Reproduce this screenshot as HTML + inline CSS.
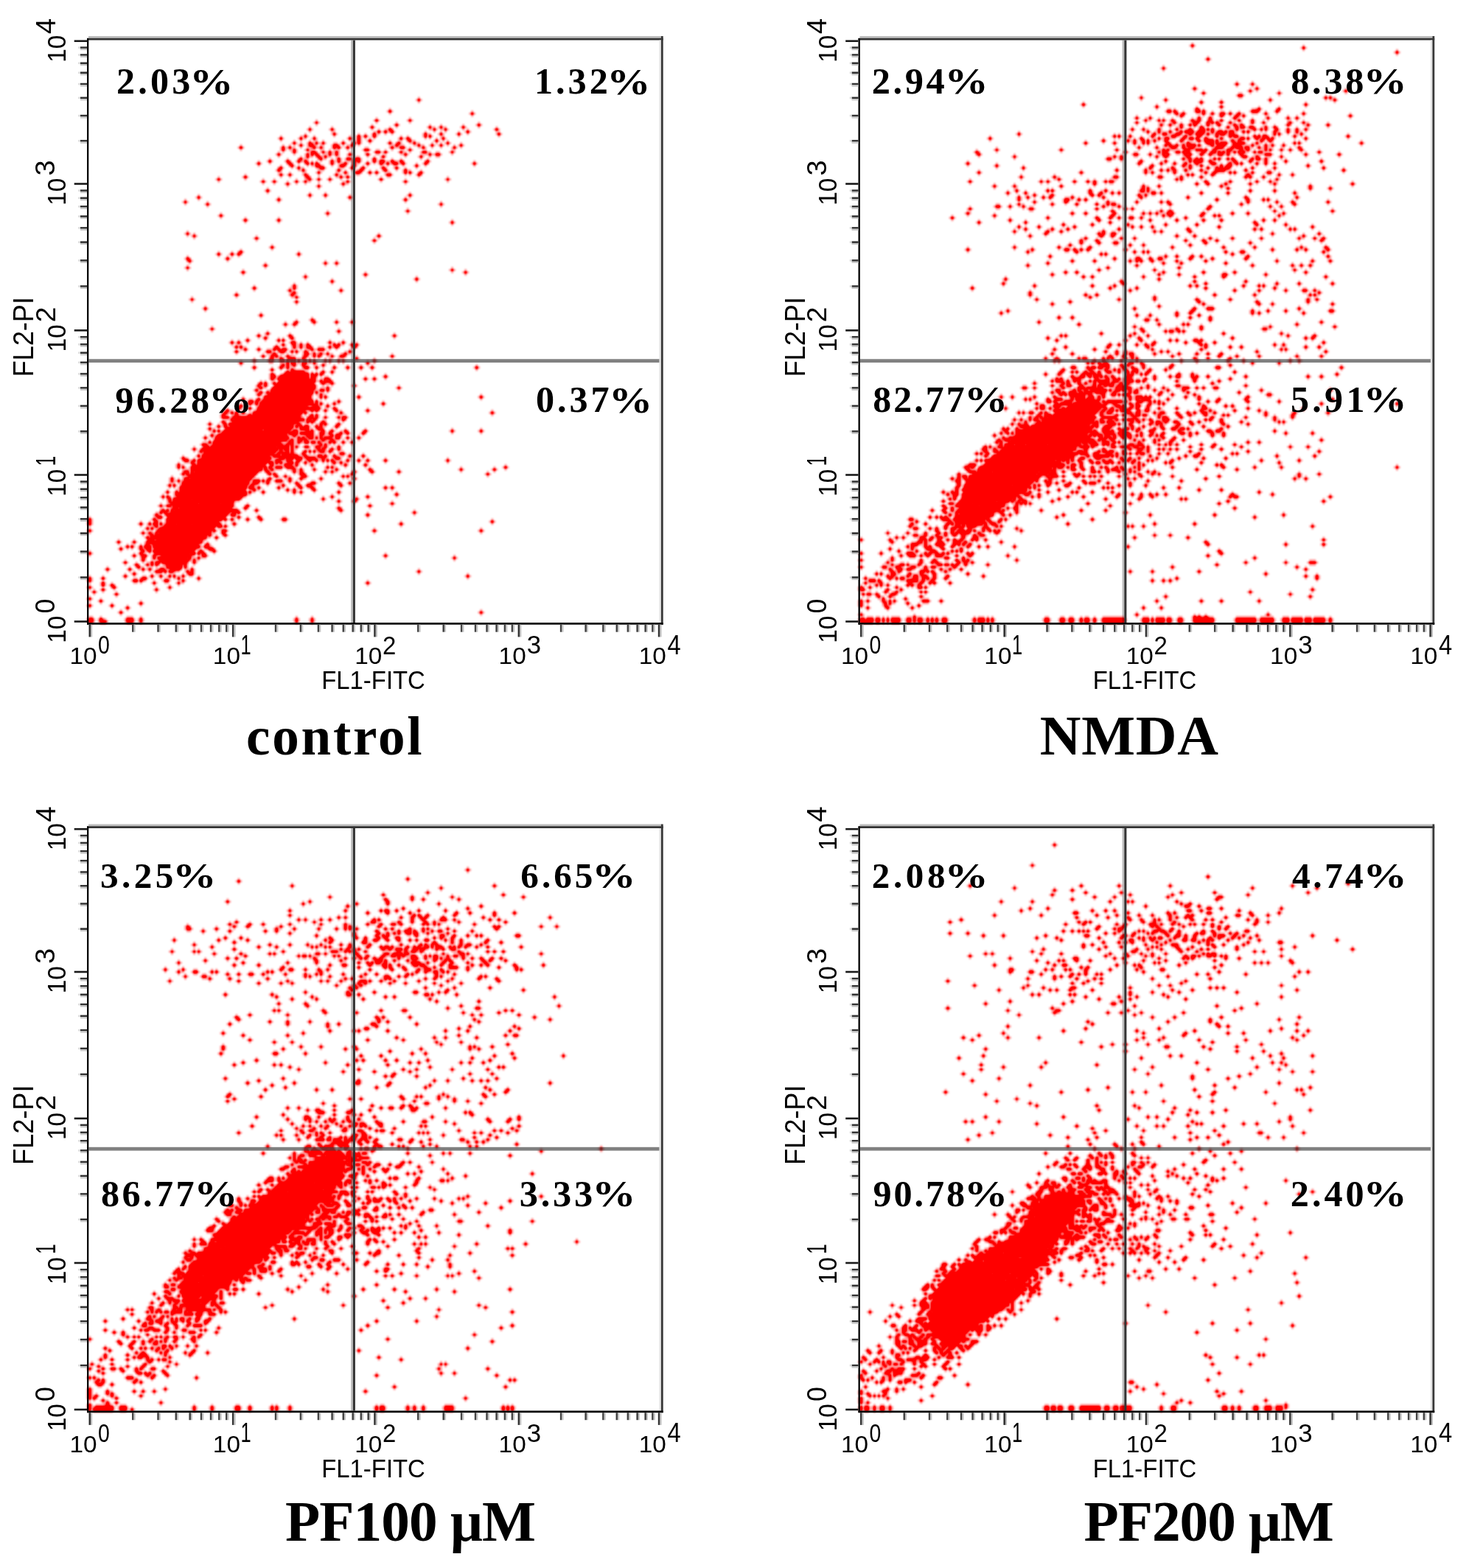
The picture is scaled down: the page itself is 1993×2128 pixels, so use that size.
<!DOCTYPE html><html><head><meta charset="utf-8"><title>Flow cytometry</title><style>html,body{margin:0;padding:0;background:#fff}svg{display:block}text.s{font-family:"Liberation Sans",Arial,sans-serif}text.b{font-family:"Liberation Serif","Times New Roman",serif;font-weight:bold}</style></head><body>
<svg xmlns="http://www.w3.org/2000/svg" width="1993" height="2128" viewBox="0 0 1993 2128">
<rect width="100%" height="100%" fill="#fff"/>
<defs><filter id="bl" filterUnits="userSpaceOnUse" x="112" y="46" width="792" height="806" color-interpolation-filters="sRGB"><feMorphology in="SourceAlpha" operator="dilate" radius="3 0.01" result="h"/><feMorphology in="SourceAlpha" operator="dilate" radius="0.01 3" result="v"/><feComposite in="h" in2="v" operator="arithmetic" k2="0.28" k3="0.28" result="hv"/><feComposite in="hv" in2="SourceAlpha" operator="arithmetic" k2="1" k3="1" result="a"/><feFlood flood-color="#f00"/><feComposite in2="a" operator="in"/><feGaussianBlur stdDeviation="0.8"/><feComponentTransfer><feFuncA type="linear" slope="1.3"/></feComponentTransfer></filter><g id="ax"><rect x="120.00" y="49.00" width="777.00" height="2.70" fill="#bdbdbd"/><rect x="118.00" y="51.70" width="781.70" height="2.80" fill="#333"/><rect x="894.40" y="54.50" width="2.50" height="790.50" fill="#e4e4e4"/><rect x="896.90" y="49.00" width="2.80" height="798.70" fill="#383838"/><rect x="118.00" y="52.00" width="2.30" height="795.70" fill="#000"/><rect x="118.00" y="845.00" width="781.70" height="2.70" fill="#000"/><rect x="100.70" y="842.20" width="17.30" height="2.60" fill="#1a1a1a"/><rect x="100.70" y="643.20" width="17.30" height="2.60" fill="#1a1a1a"/><rect x="100.70" y="447.10" width="17.30" height="2.60" fill="#1a1a1a"/><rect x="100.70" y="248.20" width="17.30" height="2.60" fill="#1a1a1a"/><rect x="100.70" y="54.40" width="17.30" height="2.60" fill="#1a1a1a"/><rect x="109.00" y="782.30" width="9.00" height="2.60" fill="#333"/><rect x="109.00" y="784.90" width="9.00" height="2.20" fill="#c8c8c8"/><rect x="106.30" y="782.30" width="2.70" height="2.60" fill="#d8d8d8"/><rect x="109.00" y="747.25" width="9.00" height="2.60" fill="#333"/><rect x="109.00" y="749.85" width="9.00" height="2.20" fill="#c8c8c8"/><rect x="106.30" y="747.25" width="2.70" height="2.60" fill="#d8d8d8"/><rect x="109.00" y="722.39" width="9.00" height="2.60" fill="#333"/><rect x="109.00" y="724.99" width="9.00" height="2.20" fill="#c8c8c8"/><rect x="106.30" y="722.39" width="2.70" height="2.60" fill="#d8d8d8"/><rect x="109.00" y="703.10" width="9.00" height="2.60" fill="#333"/><rect x="109.00" y="705.70" width="9.00" height="2.20" fill="#c8c8c8"/><rect x="106.30" y="703.10" width="2.70" height="2.60" fill="#d8d8d8"/><rect x="109.00" y="687.35" width="9.00" height="2.60" fill="#333"/><rect x="109.00" y="689.95" width="9.00" height="2.20" fill="#c8c8c8"/><rect x="106.30" y="687.35" width="2.70" height="2.60" fill="#d8d8d8"/><rect x="109.00" y="674.03" width="9.00" height="2.60" fill="#333"/><rect x="109.00" y="676.63" width="9.00" height="2.20" fill="#c8c8c8"/><rect x="106.30" y="674.03" width="2.70" height="2.60" fill="#d8d8d8"/><rect x="109.00" y="662.49" width="9.00" height="2.60" fill="#333"/><rect x="109.00" y="665.09" width="9.00" height="2.20" fill="#c8c8c8"/><rect x="106.30" y="662.49" width="2.70" height="2.60" fill="#d8d8d8"/><rect x="109.00" y="652.31" width="9.00" height="2.60" fill="#333"/><rect x="109.00" y="654.91" width="9.00" height="2.20" fill="#c8c8c8"/><rect x="106.30" y="652.31" width="2.70" height="2.60" fill="#d8d8d8"/><rect x="109.00" y="584.17" width="9.00" height="2.60" fill="#333"/><rect x="109.00" y="586.77" width="9.00" height="2.20" fill="#c8c8c8"/><rect x="106.30" y="584.17" width="2.70" height="2.60" fill="#d8d8d8"/><rect x="109.00" y="549.64" width="9.00" height="2.60" fill="#333"/><rect x="109.00" y="552.24" width="9.00" height="2.20" fill="#c8c8c8"/><rect x="106.30" y="549.64" width="2.70" height="2.60" fill="#d8d8d8"/><rect x="109.00" y="525.14" width="9.00" height="2.60" fill="#333"/><rect x="109.00" y="527.74" width="9.00" height="2.20" fill="#c8c8c8"/><rect x="106.30" y="525.14" width="2.70" height="2.60" fill="#d8d8d8"/><rect x="109.00" y="506.13" width="9.00" height="2.60" fill="#333"/><rect x="109.00" y="508.73" width="9.00" height="2.20" fill="#c8c8c8"/><rect x="106.30" y="506.13" width="2.70" height="2.60" fill="#d8d8d8"/><rect x="109.00" y="490.60" width="9.00" height="2.60" fill="#333"/><rect x="109.00" y="493.20" width="9.00" height="2.20" fill="#c8c8c8"/><rect x="106.30" y="490.60" width="2.70" height="2.60" fill="#d8d8d8"/><rect x="109.00" y="477.48" width="9.00" height="2.60" fill="#333"/><rect x="109.00" y="480.08" width="9.00" height="2.20" fill="#c8c8c8"/><rect x="106.30" y="477.48" width="2.70" height="2.60" fill="#d8d8d8"/><rect x="109.00" y="466.10" width="9.00" height="2.60" fill="#333"/><rect x="109.00" y="468.70" width="9.00" height="2.20" fill="#c8c8c8"/><rect x="106.30" y="466.10" width="2.70" height="2.60" fill="#d8d8d8"/><rect x="109.00" y="456.07" width="9.00" height="2.60" fill="#333"/><rect x="109.00" y="458.67" width="9.00" height="2.20" fill="#c8c8c8"/><rect x="106.30" y="456.07" width="2.70" height="2.60" fill="#d8d8d8"/><rect x="109.00" y="387.23" width="9.00" height="2.60" fill="#333"/><rect x="109.00" y="389.83" width="9.00" height="2.20" fill="#c8c8c8"/><rect x="106.30" y="387.23" width="2.70" height="2.60" fill="#d8d8d8"/><rect x="109.00" y="352.20" width="9.00" height="2.60" fill="#333"/><rect x="109.00" y="354.80" width="9.00" height="2.20" fill="#c8c8c8"/><rect x="106.30" y="352.20" width="2.70" height="2.60" fill="#d8d8d8"/><rect x="109.00" y="327.35" width="9.00" height="2.60" fill="#333"/><rect x="109.00" y="329.95" width="9.00" height="2.20" fill="#c8c8c8"/><rect x="106.30" y="327.35" width="2.70" height="2.60" fill="#d8d8d8"/><rect x="109.00" y="308.07" width="9.00" height="2.60" fill="#333"/><rect x="109.00" y="310.67" width="9.00" height="2.20" fill="#c8c8c8"/><rect x="106.30" y="308.07" width="2.70" height="2.60" fill="#d8d8d8"/><rect x="109.00" y="292.33" width="9.00" height="2.60" fill="#333"/><rect x="109.00" y="294.93" width="9.00" height="2.20" fill="#c8c8c8"/><rect x="106.30" y="292.33" width="2.70" height="2.60" fill="#d8d8d8"/><rect x="109.00" y="279.01" width="9.00" height="2.60" fill="#333"/><rect x="109.00" y="281.61" width="9.00" height="2.20" fill="#c8c8c8"/><rect x="106.30" y="279.01" width="2.70" height="2.60" fill="#d8d8d8"/><rect x="109.00" y="267.48" width="9.00" height="2.60" fill="#333"/><rect x="109.00" y="270.08" width="9.00" height="2.20" fill="#c8c8c8"/><rect x="106.30" y="267.48" width="2.70" height="2.60" fill="#d8d8d8"/><rect x="109.00" y="257.30" width="9.00" height="2.60" fill="#333"/><rect x="109.00" y="259.90" width="9.00" height="2.20" fill="#c8c8c8"/><rect x="106.30" y="257.30" width="2.70" height="2.60" fill="#d8d8d8"/><rect x="109.00" y="189.86" width="9.00" height="2.60" fill="#333"/><rect x="109.00" y="192.46" width="9.00" height="2.20" fill="#c8c8c8"/><rect x="106.30" y="189.86" width="2.70" height="2.60" fill="#d8d8d8"/><rect x="109.00" y="155.73" width="9.00" height="2.60" fill="#333"/><rect x="109.00" y="158.33" width="9.00" height="2.20" fill="#c8c8c8"/><rect x="106.30" y="155.73" width="2.70" height="2.60" fill="#d8d8d8"/><rect x="109.00" y="131.52" width="9.00" height="2.60" fill="#333"/><rect x="109.00" y="134.12" width="9.00" height="2.20" fill="#c8c8c8"/><rect x="106.30" y="131.52" width="2.70" height="2.60" fill="#d8d8d8"/><rect x="109.00" y="112.74" width="9.00" height="2.60" fill="#333"/><rect x="109.00" y="115.34" width="9.00" height="2.20" fill="#c8c8c8"/><rect x="106.30" y="112.74" width="2.70" height="2.60" fill="#d8d8d8"/><rect x="109.00" y="97.39" width="9.00" height="2.60" fill="#333"/><rect x="109.00" y="99.99" width="9.00" height="2.20" fill="#c8c8c8"/><rect x="106.30" y="97.39" width="2.70" height="2.60" fill="#d8d8d8"/><rect x="109.00" y="84.42" width="9.00" height="2.60" fill="#333"/><rect x="109.00" y="87.02" width="9.00" height="2.20" fill="#c8c8c8"/><rect x="106.30" y="84.42" width="2.70" height="2.60" fill="#d8d8d8"/><rect x="109.00" y="73.18" width="9.00" height="2.60" fill="#333"/><rect x="109.00" y="75.78" width="9.00" height="2.20" fill="#c8c8c8"/><rect x="106.30" y="73.18" width="2.70" height="2.60" fill="#d8d8d8"/><rect x="109.00" y="63.27" width="9.00" height="2.60" fill="#333"/><rect x="109.00" y="65.87" width="9.00" height="2.20" fill="#c8c8c8"/><rect x="106.30" y="63.27" width="2.70" height="2.60" fill="#d8d8d8"/><rect x="120.50" y="847.70" width="2.60" height="16.70" fill="#333"/><rect x="123.10" y="847.70" width="2.00" height="16.70" fill="#bbb"/><rect x="314.90" y="847.70" width="2.60" height="16.70" fill="#333"/><rect x="317.50" y="847.70" width="2.00" height="16.70" fill="#bbb"/><rect x="507.20" y="847.70" width="2.60" height="16.70" fill="#333"/><rect x="509.80" y="847.70" width="2.00" height="16.70" fill="#bbb"/><rect x="702.60" y="847.70" width="2.60" height="16.70" fill="#333"/><rect x="705.20" y="847.70" width="2.00" height="16.70" fill="#bbb"/><rect x="892.80" y="847.70" width="2.60" height="16.70" fill="#333"/><rect x="895.40" y="847.70" width="2.00" height="16.70" fill="#bbb"/><rect x="179.02" y="847.70" width="2.60" height="10.00" fill="#444"/><rect x="181.62" y="847.70" width="2.00" height="10.00" fill="#c4c4c4"/><rect x="213.25" y="847.70" width="2.60" height="10.00" fill="#444"/><rect x="215.85" y="847.70" width="2.00" height="10.00" fill="#c4c4c4"/><rect x="237.54" y="847.70" width="2.60" height="10.00" fill="#444"/><rect x="240.14" y="847.70" width="2.00" height="10.00" fill="#c4c4c4"/><rect x="256.38" y="847.70" width="2.60" height="10.00" fill="#444"/><rect x="258.98" y="847.70" width="2.00" height="10.00" fill="#c4c4c4"/><rect x="271.77" y="847.70" width="2.60" height="10.00" fill="#444"/><rect x="274.37" y="847.70" width="2.00" height="10.00" fill="#c4c4c4"/><rect x="284.79" y="847.70" width="2.60" height="10.00" fill="#444"/><rect x="287.39" y="847.70" width="2.00" height="10.00" fill="#c4c4c4"/><rect x="296.06" y="847.70" width="2.60" height="10.00" fill="#444"/><rect x="298.66" y="847.70" width="2.00" height="10.00" fill="#c4c4c4"/><rect x="306.00" y="847.70" width="2.60" height="10.00" fill="#444"/><rect x="308.60" y="847.70" width="2.00" height="10.00" fill="#c4c4c4"/><rect x="372.79" y="847.70" width="2.60" height="10.00" fill="#444"/><rect x="375.39" y="847.70" width="2.00" height="10.00" fill="#c4c4c4"/><rect x="406.65" y="847.70" width="2.60" height="10.00" fill="#444"/><rect x="409.25" y="847.70" width="2.00" height="10.00" fill="#c4c4c4"/><rect x="430.68" y="847.70" width="2.60" height="10.00" fill="#444"/><rect x="433.28" y="847.70" width="2.00" height="10.00" fill="#c4c4c4"/><rect x="449.31" y="847.70" width="2.60" height="10.00" fill="#444"/><rect x="451.91" y="847.70" width="2.00" height="10.00" fill="#c4c4c4"/><rect x="464.54" y="847.70" width="2.60" height="10.00" fill="#444"/><rect x="467.14" y="847.70" width="2.00" height="10.00" fill="#c4c4c4"/><rect x="477.41" y="847.70" width="2.60" height="10.00" fill="#444"/><rect x="480.01" y="847.70" width="2.00" height="10.00" fill="#c4c4c4"/><rect x="488.56" y="847.70" width="2.60" height="10.00" fill="#444"/><rect x="491.16" y="847.70" width="2.00" height="10.00" fill="#c4c4c4"/><rect x="498.40" y="847.70" width="2.60" height="10.00" fill="#444"/><rect x="501.00" y="847.70" width="2.00" height="10.00" fill="#c4c4c4"/><rect x="566.02" y="847.70" width="2.60" height="10.00" fill="#444"/><rect x="568.62" y="847.70" width="2.00" height="10.00" fill="#c4c4c4"/><rect x="600.43" y="847.70" width="2.60" height="10.00" fill="#444"/><rect x="603.03" y="847.70" width="2.00" height="10.00" fill="#c4c4c4"/><rect x="624.84" y="847.70" width="2.60" height="10.00" fill="#444"/><rect x="627.44" y="847.70" width="2.00" height="10.00" fill="#c4c4c4"/><rect x="643.78" y="847.70" width="2.60" height="10.00" fill="#444"/><rect x="646.38" y="847.70" width="2.00" height="10.00" fill="#c4c4c4"/><rect x="659.25" y="847.70" width="2.60" height="10.00" fill="#444"/><rect x="661.85" y="847.70" width="2.00" height="10.00" fill="#c4c4c4"/><rect x="672.33" y="847.70" width="2.60" height="10.00" fill="#444"/><rect x="674.93" y="847.70" width="2.00" height="10.00" fill="#c4c4c4"/><rect x="683.66" y="847.70" width="2.60" height="10.00" fill="#444"/><rect x="686.26" y="847.70" width="2.00" height="10.00" fill="#c4c4c4"/><rect x="693.66" y="847.70" width="2.60" height="10.00" fill="#444"/><rect x="696.26" y="847.70" width="2.00" height="10.00" fill="#c4c4c4"/><rect x="759.86" y="847.70" width="2.60" height="10.00" fill="#444"/><rect x="762.46" y="847.70" width="2.00" height="10.00" fill="#c4c4c4"/><rect x="793.35" y="847.70" width="2.60" height="10.00" fill="#444"/><rect x="795.95" y="847.70" width="2.00" height="10.00" fill="#c4c4c4"/><rect x="817.11" y="847.70" width="2.60" height="10.00" fill="#444"/><rect x="819.71" y="847.70" width="2.00" height="10.00" fill="#c4c4c4"/><rect x="835.54" y="847.70" width="2.60" height="10.00" fill="#444"/><rect x="838.14" y="847.70" width="2.00" height="10.00" fill="#c4c4c4"/><rect x="850.60" y="847.70" width="2.60" height="10.00" fill="#444"/><rect x="853.20" y="847.70" width="2.00" height="10.00" fill="#c4c4c4"/><rect x="863.34" y="847.70" width="2.60" height="10.00" fill="#444"/><rect x="865.94" y="847.70" width="2.00" height="10.00" fill="#c4c4c4"/><rect x="874.37" y="847.70" width="2.60" height="10.00" fill="#444"/><rect x="876.97" y="847.70" width="2.00" height="10.00" fill="#c4c4c4"/><rect x="884.10" y="847.70" width="2.60" height="10.00" fill="#444"/><rect x="886.70" y="847.70" width="2.00" height="10.00" fill="#c4c4c4"/><text class="s" transform="translate(94.46,901.49) scale(1,0.952)" style="font-size:33.40px">10</text><text class="s" transform="translate(132.89,887.25) scale(1,1.246)" style="font-size:28.45px">0</text><text class="s" transform="translate(288.86,901.49) scale(1,0.952)" style="font-size:33.40px">10</text><text class="s" transform="translate(326.46,887.60) scale(1,1.430)" style="font-size:25.51px">1</text><text class="s" transform="translate(481.16,901.49) scale(1,0.952)" style="font-size:33.40px">10</text><text class="s" transform="translate(519.04,887.60) scale(1,1.092)" style="font-size:32.93px">2</text><text class="s" transform="translate(676.56,901.49) scale(1,0.952)" style="font-size:33.40px">10</text><text class="s" transform="translate(714.77,887.25) scale(1,1.019)" style="font-size:34.80px">3</text><text class="s" transform="translate(866.76,901.49) scale(1,0.952)" style="font-size:33.40px">10</text><text class="s" transform="translate(905.55,887.60) scale(1,1.114)" style="font-size:32.74px">4</text><text class="s" transform="translate(436.20,935.06) scale(1,1.057)" style="font-size:32.88px">FL1-FITC</text><text class="s" transform="translate(88.65,872.64) rotate(-90) scale(1,1.069)" style="font-size:33.30px">10</text><text class="s" transform="translate(74.45,832.39) rotate(-90) scale(1,1.017)" style="font-size:35.56px">0</text><text class="s" transform="translate(88.65,673.64) rotate(-90) scale(1,1.069)" style="font-size:33.30px">10</text><text class="s" transform="translate(74.80,632.36) rotate(-90) scale(1,1.528)" style="font-size:24.35px">1</text><text class="s" transform="translate(88.65,477.54) rotate(-90) scale(1,1.069)" style="font-size:33.30px">10</text><text class="s" transform="translate(74.80,437.60) rotate(-90) scale(1,0.971)" style="font-size:37.76px">2</text><text class="s" transform="translate(88.65,278.64) rotate(-90) scale(1,1.069)" style="font-size:33.30px">10</text><text class="s" transform="translate(74.45,238.45) rotate(-90) scale(1,0.952)" style="font-size:37.96px">3</text><text class="s" transform="translate(88.65,84.84) rotate(-90) scale(1,1.069)" style="font-size:33.30px">10</text><text class="s" transform="translate(74.80,46.18) rotate(-90) scale(1,0.972)" style="font-size:38.30px">4</text><text class="s" transform="translate(45.30,511.57) rotate(-90) scale(1,1.076)" style="font-size:36.19px">FL2-PI</text></g></defs>
<g transform="translate(0,0)">
<g filter="url(#bl)"><g transform="translate(120.3,57.3) scale(3.017,3.077)" fill="none" stroke="#f00"><path d="M148 25.5h1M135 30.5h1M172 31.5h1M129 34.5h1m14 0h1M102 35.5h1M138 36.5h1m36 0h1M127 37.5h1m25 0h1m4 0h1m9 0h1M99 38.5h1m9 0h1m25 0h1m19 0h1m4 0h1m22 0h1M130 39.5h1m2 0h1m2 0h1m33 0h1M110 40.5h1m17 0h1m22 0h1m6 0h1m7 0h1m17 0h1M97 41.5h1m23 0h1m2 0h1m3 0h1m22 0h1m1 0h1M86 42.5h1m8 0h1m5 0h1m15 0h1m3 0h1m18 0h1m2 0h1m15 0h1M121 43.5h1m4 0h1m17 0h1m11 0h1M92 44.5h1m6 0h1m2 0h1m2 0h1m8 0h1m4 0h1m1 0h1m13 0h1m3 0h1m6 0h1m14 0h1M95 45.5h1m3 0h2m9 0h2m6 0h1m19 0h1m9 0h1m5 0h1m3 0h1m8 0h1M68 46.5h1m18 0h1m2 0h1m10 0h1m2 0h1m5 0h1m1 0h1m3 0h1m19 0h1m3 0h2m8 0h1m13 0h1M87 47.5h1m4 0h1m5 0h1m25 0h2m18 0h1M92 48.5h1m7 0h2m3 0h1m2 0h1m2 0h1m17 0h2m2 0h1m6 0h1m9 0h2m11 0h1M85 49.5h1m12 0h1m1 0h1m1 0h1m5 0h1m2 0h1m5 0h1m7 0h1m16 0h1m10 0h1m2 0h2M98 50.5h1m4 0h1m2 0h1m25 0h1m16 0h1M95 51.5h1m8 0h1m7 0h1m3 0h2m2 0h2m6 0h1M81 52.5h1m7 0h1m4 0h1m2 0h1m11 0h1m2 0h1m6 0h1m1 0h1m6 0h1m2 0h2m3 0h1m3 0h1m11 0h1M76 53.5h1m13 0h1m7 0h1m1 0h1m1 0h1m6 0h1m5 0h1m3 0h1m5 0h1m5 0h1m2 0h1m2 0h2m2 0h1m9 0h1m21 0h1M91 54.5h1m10 0h2m9 0h2m4 0h1m27 0h1M86 55.5h1m7 0h1m9 0h2m12 0h1m4 0h1m8 0h1m5 0h1M85 56.5h1m10 0h1m15 0h1m9 0h1m10 0h1m8 0h1M103 57.5h1m11 0h1m4 0h2m4 0h1m2 0h1m12 0h1m1 0h1m4 0h1M86 58.5h1m3 0h1m6 0h1m13 0h1m22 0h2m12 0h1M70 59.5h1m27 0h1m14 0h1m2 0h1M58 60.5h1m40 0h1m3 0h1m4 0h1m22 0h1m29 0h1M78 61.5h1m4 0h1m9 0h1m3 0h1m18 0h1m25 0h1M89 62.5h1m24 0h1M103 63.5h1M80 65.5h1M99 67.5h1m6 0h1m37 0h1M49 68.5h1m67 0h1M85 69.5h1m56 0h1M43 70.5h1M53 71.5h1m104 0h1M143 74.5h1M107 75.5h1M59 76.5h1M70 78.5h1m14 0h1M163 79.5h1M44 84.5h1M47 85.5h1m82 0h1M75 86.5h1M128 87.5h1M82 90.5h1M68 92.5h1M58 93.5h1m5 0h1m2 0h1m26 0h1M44 95.5h1m17 0h1M45 96.5h1M106 97.5h1m4 0h1M79 98.5h1M44 99.5h1M163 100.5h1M69 101.5h1m99 0h1M124 102.5h1M97 103.5h1M147 104.5h1M109 105.5h1M92 107.5h1M74 108.5h1m17 0h1M90 109.5h1m22 0h1M92 110.5h1M66 111.5h1m24 0h1M93 112.5h1M46 113.5h1M93 114.5h1M52 117.5h1M77 120.5h1M100 122.5h1M93 123.5h1m7 0h1m9 0h1m6 0h1M88 124.5h1m3 0h1M55 126.5h1M112 127.5h1M80 128.5h1M76 129.5h1m13 0h1m46 0h1M79 130.5h1m11 0h1M71 131.5h1m13 0h1m1 0h1M64 132.5h1m2 0h1m23 0h2m15 0h1m5 0h1M87 133.5h1m4 0h1m2 0h1m2 0h1m11 0h1m1 0h1m5 0h1m1 0h1M66 134.5h1m1 0h1m15 0h1m7 0h1m2 0h1m2 0h2m8 0h1m2 0h1m7 0h1M70 135.5h1m5 0h1m6 0h1m1 0h1m1 0h2m11 0h1m2 0h3M66 136.5h1m13 0h2m4 0h2m3 0h1m1 0h1m3 0h1m19 0h1M83 137.5h1m13 0h2m2 0h1m2 0h1m2 0h1m7 0h1M78 138.5h1m3 0h1m1 0h1m4 0h1m7 0h1m3 0h1m1 0h1m5 0h1m3 0h2m21 0h1M82 139.5h1m3 0h1m3 0h3m3 0h1m23 0h1M74 140.5h1m6 0h2m3 0h2m1 0h1m1 0h2m1 0h1m2 0h1m1 0h1m1 0h1m4 0h1m1 0h1m3 0h1m1 0h1m13 0h1M68 141.5h1m20 0h1m1 0h2m3 0h2m3 0h1m23 0h1M87 142.5h1m1 0h1m2 0h1m3 0h1m8 0h1M74 143.5h1m11 0h1m2 0h1m7 0h2m3 0h1m7 0h1m5 0h1m5 0h1m4 0h1m46 0h1M82 144.5h1m8 0h1M89 145.5h1m1 0h6m8 0h1m3 0h1M82 146.5h1m5 0h1m1 0h9m1 0h1m1 0h1m1 0h1M82 147.5h2m2 0h13m1 0h2m31 0h1M82 148.5h1m2 0h1m1 0h12m1 0h2m4 0h2m16 0h1m3 0h1M86 149.5h16m2 0h1m1 0h3M77 150.5h1m1 0h1m3 0h1m1 0h16m4 0h1m3 0h1M76 151.5h1m2 0h1m4 0h18m17 0h1M77 152.5h1m5 0h19m5 0h1m31 0h1M75 153.5h1m6 0h19m3 0h2m1 0h1M77 154.5h1m2 0h1m1 0h19m1 0h1M76 155.5h1m4 0h19m4 0h1M79 156.5h21m4 0h1m1 0h1m14 0h1m54 0h1M69 157.5h1m6 0h1m2 0h21M72 158.5h2m1 0h1m2 0h23m1 0h1m9 0h1M72 159.5h1m2 0h1m1 0h4m1 0h19m1 0h1m1 0h1m5 0h1m21 0h1M68 160.5h1m8 0h21m3 0h2m4 0h1M67 161.5h1m4 0h1m3 0h28m6 0h1M62 162.5h1m13 0h18m1 0h2m3 0h1m1 0h1m3 0h1m4 0h1m13 0h1M61 163.5h1m2 0h1m1 0h1m2 0h1m4 0h22m1 0h1m15 0h1m67 0h1M60 164.5h1m5 0h1m5 0h1m1 0h21m5 0h1m1 0h1M60 165.5h3m2 0h1m1 0h28m4 0h2m1 0h1m3 0h1m5 0h1m1 0h2M64 166.5h1m1 0h31m1 0h2m1 0h1m12 0h1M60 167.5h1m4 0h20m1 0h8m4 0h1m1 0h1m4 0h1M54 168.5h1m6 0h1m1 0h25m1 0h3m2 0h1m9 0h1m1 0h1m5 0h1M58 169.5h1m2 0h1m2 0h28m1 0h1m1 0h1m1 0h2m3 0h1m1 0h1m6 0h1M54 170.5h1m7 0h16m1 0h12m4 0h4m4 0h2M56 171.5h1m1 0h1m2 0h17m1 0h11m2 0h2m4 0h1m1 0h1m4 0h1m3 0h1m5 0h1m8 0h1m38 0h1m12 0h1M60 172.5h12m1 0h16m1 0h4m1 0h3m1 0h2m3 0h2m2 0h1m4 0h1m2 0h1m6 0h1M55 173.5h1m2 0h31m3 0h1m5 0h3m3 0h1m4 0h1m1 0h2M52 174.5h1m4 0h27m1 0h3m1 0h1m4 0h1m1 0h1m2 0h2m1 0h1m1 0h1m1 0h3m2 0h2m3 0h1m4 0h1M57 175.5h32m2 0h1m2 0h2m1 0h1m7 0h1m3 0h1M54 176.5h1m1 0h30m4 0h2m2 0h1m2 0h2m1 0h2m1 0h1m4 0h1m1 0h1m3 0h1m3 0h1M51 177.5h2m3 0h31m2 0h1m1 0h1m12 0h1m1 0h1M52 178.5h2m1 0h29m1 0h5m1 0h1m1 0h1m3 0h2m3 0h2m2 0h1m5 0h1M47 179.5h1m3 0h34m1 0h1m1 0h2m1 0h1m11 0h1m1 0h1m3 0h1m2 0h1M50 180.5h1m1 0h1m1 0h30m2 0h1m2 0h1m1 0h1m5 0h1m1 0h1m1 0h1m2 0h2m2 0h1M52 181.5h31m2 0h1m1 0h3m1 0h1m4 0h1m16 0h2M49 182.5h1m1 0h1m1 0h28m2 0h3m1 0h2m1 0h1m1 0h2m3 0h1m5 0h2m1 0h1m3 0h1m6 0h1m5 0h1M42 183.5h1m8 0h29m1 0h1m4 0h2m1 0h3m1 0h3m2 0h4m3 0h1m5 0h2M43 184.5h2m2 0h1m1 0h16m1 0h15m3 0h2m3 0h2m3 0h1m4 0h1m2 0h1m2 0h1m1 0h1m1 0h1m6 0h1m4 0h1m3 0h1m7 0h1m27 0h1M46 185.5h1m2 0h20m1 0h10m1 0h2m1 0h1m1 0h1m3 0h2m1 0h1m3 0h1m12 0h1m2 0h1M40 186.5h1m6 0h1m1 0h30m3 0h1m5 0h3m2 0h1m6 0h1m14 0h1m8 0h1M40 187.5h1m1 0h1m3 0h9m1 0h22m1 0h1m1 0h1m2 0h3m2 0h3m15 0h1m1 0h1m77 0h1M46 188.5h32m1 0h1m2 0h1m9 0h1m2 0h1m5 0h1m9 0h1m14 0h1m40 0h1m14 0h1M43 189.5h2m1 0h1m1 0h28m4 0h1m11 0h1m2 0h1m10 0h1m2 0h1m9 0h1m7 0h1m11 0h1M42 190.5h1m1 0h1m1 0h29m6 0h1m1 0h1m11 0h2m21 0h1m60 0h1M45 191.5h29m10 0h1m3 0h1m7 0h2m16 0h1m1 0h1M37 192.5h1m5 0h2m1 0h19m1 0h7m8 0h1m8 0h1m4 0h1m8 0h1m14 0h1M37 193.5h1m2 0h1m2 0h29m2 0h3m1 0h1m1 0h1m3 0h3m3 0h1M42 194.5h23m1 0h6m2 0h2m4 0h1m12 0h1m6 0h2m10 0h1m4 0h1M36 195.5h1m1 0h1m3 0h29m2 0h1m13 0h1m6 0h1m3 0h2m13 0h1M41 196.5h18m1 0h11m1 0h2m2 0h1m8 0h1m9 0h1m4 0h1m32 0h1m2 0h1M41 197.5h29m4 0h1m14 0h1m2 0h1m8 0h1M35 198.5h1m3 0h1m1 0h28m1 0h1m1 0h1m5 0h1m13 0h1m2 0h1m16 0h1M39 199.5h29m1 0h2m67 0h1M33 200.5h1m1 0h1m4 0h27m1 0h1m40 0h1m15 0h1M36 201.5h1m1 0h8m1 0h21m37 0h1m14 0h1M36 202.5h1m1 0h27m47 0h1m6 0h1M37 203.5h12m1 0h9m1 0h5m71 0h1M32 204.5h1m2 0h2m1 0h27m6 0h1m54 0h1M38 205.5h2m1 0h23m6 0h1m41 0h1M33 206.5h1m1 0h1m1 0h1m1 0h12m1 0h15m8 0h1m37 0h1M32 207.5h1m1 0h1m2 0h26m2 0h1m1 0h1m78 0h1M30 208.5h1m4 0h27m2 0h2m59 0h1M31 209.5h2m3 0h25m6 0h1m8 0h1M0 210.5h1m28 0h1m5 0h22m1 0h2m1 0h1m2 0h1m6 0h1m5 0h1m9 0h2M0 211.5h1m29 0h1m4 0h23m123 0h1M0 212.5h1m22 0h1m3 0h1m1 0h2m1 0h1m2 0h4m1 0h6m1 0h12m6 0h1m74 0h1M30 213.5h1m3 0h23m1 0h2m1 0h1M26 214.5h1m1 0h1m3 0h24M0 215.5h1m30 0h24m1 0h1m3 0h2m66 0h1m47 0h1M24 216.5h1m2 0h1m2 0h1m1 0h23m5 0h1M28 217.5h1m1 0h23m1 0h1m6 0h1M26 218.5h1m1 0h25m4 0h1M27 219.5h2m2 0h20M13 220.5h1m6 0h1m5 0h6m1 0h18M26 221.5h1m2 0h20m4 0h1M17 222.5h1m1 0h1m3 0h1m1 0h1m1 0h1m1 0h2m1 0h18m2 0h2M14 223.5h1m8 0h1m2 0h2m2 0h18m6 0h2M24 224.5h1m2 0h1m1 0h18m3 0h1m5 0h1M0 225.5h1m22 0h1m6 0h15m1 0h2m1 0h1m1 0h1M20 226.5h1m3 0h2m3 0h1m3 0h13m5 0h2m80 0h1M24 227.5h1m4 0h1m1 0h2m1 0h10m1 0h1m3 0h1m114 0h1M24 228.5h1m7 0h13m2 0h1M16 229.5h1m11 0h1m1 0h2m1 0h11m3 0h1M21 230.5h1m4 0h1m1 0h1m1 0h1m4 0h7m1 0h1M22 231.5h1m12 0h7m1 0h1M8 232.5h1m9 0h1m5 0h1m2 0h1m4 0h2m3 0h4m5 0h1M30 233.5h3m1 0h1m1 0h2m6 0h1m1 0h1m101 0h1M20 234.5h1m24 0h2M16 235.5h1m11 0h1m3 0h1m3 0h1m1 0h1m3 0h1m127 0h1M0 236.5h1m5 0h1m17 0h2m14 0h1m8 0h1M0 237.5h1m19 0h2m1 0h1m10 0h2m6 0h1M6 238.5h1m22 0h1m10 0h1m84 0h1M6 239.5h1m3 0h1M0 240.5h1m10 0h1m24 0h1M6 241.5h1m23 0h1M2 242.5h1M12 243.5h1M0 245.5h1M5 246.5h1M23 247.5h1M0 248.5h1m9 0h1M17 249.5h1M14 251.5h1m161 0h1M0 254.5h2m3 0h1m11 0h3m3 0h1m69 0h1m6 0h1M0 255.5h2m3 0h3m9 0h3m3 0h1m69 0h1m6 0h1" stroke-width="1"/></g></g>
<rect x="476.00" y="54.50" width="2.80" height="790.50" fill="rgba(0,0,0,0.25)"/><rect x="478.80" y="54.50" width="3.10" height="790.50" fill="#333"/><rect x="120.30" y="487.30" width="776.60" height="4.80" fill="rgba(60,60,60,0.65)"/>
<use href="#ax"/>
</g>
<g transform="translate(1046.5,0)">
<g filter="url(#bl)"><g transform="translate(120.3,57.3) scale(3.017,3.077)" fill="none" stroke="#f00"><path d="M149 1.5h1M199 2.5h1M241 4.5h1M156 7.5h1M136 11.5h1M169 18.5h1m6 0h1M150 20.5h1m27 0h1M175 21.5h1m42 0h1M154 22.5h1m33 0h1M170 23.5h2M126 24.5h1m82 0h1m1 0h1M137 25.5h1m46 0h1m28 0h1M153 26.5h1m8 0h1M100 27.5h1m99 0h1M133 28.5h1m28 0h1M151 29.5h1m27 0h1m8 0h1M138 30.5h2m1 0h1m9 0h2m1 0h1m21 0h3m8 0h1M142 31.5h1m2 0h1m8 0h1m3 0h1m3 0h2m2 0h1m3 0h1m11 0h1m16 0h1M144 32.5h1m17 0h1m6 0h1m2 0h1m47 0h1M124 33.5h1m5 0h1m21 0h1m4 0h1m10 0h1m14 0h1m8 0h1m3 0h1M128 34.5h1m5 0h1m1 0h1m3 0h1m8 0h1m2 0h1m4 0h1m4 0h1m7 0h1m5 0h1M124 35.5h1m16 0h1m8 0h2m4 0h1m1 0h1m1 0h1m5 0h1m9 0h1m4 0h1m11 0h1m5 0h1M135 36.5h1m3 0h1m4 0h1m3 0h1m1 0h1m5 0h1m4 0h1m6 0h1m2 0h1m20 0h1m8 0h1m8 0h1M144 37.5h1m8 0h1m11 0h1m3 0h1m1 0h2m2 0h2m5 0h1m3 0h1M122 38.5h1m4 0h1m6 0h1m7 0h1m5 0h1m4 0h2m1 0h1m1 0h1m10 0h1m7 0h1m2 0h1m1 0h1m4 0h1m4 0h1m3 0h1m3 0h1M129 39.5h1m4 0h1m4 0h1m4 0h1m1 0h2m1 0h1m2 0h3m3 0h1m2 0h2m1 0h1m1 0h2m4 0h1m1 0h1m11 0h1m5 0h1m3 0h1M71 40.5h1m60 0h1m3 0h2m4 0h2m4 0h1m2 0h1m1 0h1m2 0h1m3 0h1m1 0h2m2 0h2m18 0h1m1 0h1m9 0h1M114 41.5h1m1 0h1m4 0h1m9 0h1m8 0h2m4 0h1m5 0h1m7 0h1m5 0h1m1 0h2m7 0h1m1 0h1m1 0h2m12 0h1m23 0h1M58 42.5h1m67 0h1m7 0h1m2 0h2m6 0h1m2 0h2m1 0h1m3 0h1m6 0h1m8 0h2m1 0h1m3 0h1m2 0h1m1 0h1m1 0h1m14 0h1M109 43.5h1m10 0h1m2 0h1m3 0h1m1 0h1m2 0h1m4 0h1m6 0h1m7 0h1m2 0h4m1 0h1m6 0h1m2 0h1m9 0h1m3 0h1M101 44.5h1m12 0h1m8 0h1m3 0h1m1 0h1m8 0h1m8 0h1m8 0h3m1 0h1m1 0h3m3 0h1m1 0h3m5 0h1m16 0h1m1 0h1m27 0h1M137 45.5h1m1 0h1m2 0h1m2 0h1m1 0h4m1 0h1m5 0h1m2 0h1m1 0h1m4 0h3m5 0h1m5 0h1m2 0h1m4 0h1M125 46.5h1m7 0h1m6 0h2m3 0h1m2 0h2m10 0h3m4 0h1m1 0h3m1 0h2m4 0h1m2 0h1m14 0h1M61 47.5h1m28 0h1m24 0h1m20 0h1m1 0h1m7 0h2m3 0h3m1 0h1m3 0h1m5 0h2m4 0h1m2 0h1m7 0h1m1 0h1m4 0h1m3 0h1m4 0h1M52 48.5h1m66 0h1m14 0h1m1 0h2m4 0h2m1 0h1m1 0h1m6 0h1m3 0h2m1 0h1m1 0h1m1 0h1m2 0h1m1 0h1m1 0h1m4 0h1m1 0h2m25 0h1M53 49.5h1m69 0h2m5 0h1m5 0h1m1 0h1m7 0h1m1 0h1m4 0h1m3 0h1m3 0h2m2 0h1m5 0h1m10 0h3m15 0h1m14 0h1M69 50.5h1m44 0h1m2 0h1m15 0h1m3 0h1m9 0h1m24 0h2m4 0h1m10 0h1M111 51.5h2m4 0h1m27 0h1m2 0h1m2 0h1m1 0h1m5 0h1m1 0h1m3 0h1m1 0h1m8 0h1m1 0h2m2 0h1M126 52.5h1m10 0h1m10 0h1m1 0h1m1 0h2m3 0h1m10 0h1m6 0h1m6 0h1m8 0h1m15 0h1M48 53.5h1m76 0h1m9 0h1m5 0h1m4 0h1m4 0h1m6 0h2m6 0h1m2 0h1m1 0h1m6 0h1m3 0h1m3 0h1M61 54.5h1m69 0h1m13 0h1m2 0h1m4 0h1m8 0h1m2 0h2m34 0h1M73 55.5h1m56 0h1m9 0h1m7 0h1m7 0h1m3 0h1m1 0h1m1 0h2m10 0h1m9 0h1m21 0h1M115 56.5h1m12 0h1m6 0h1m2 0h1m2 0h1m4 0h1m6 0h1m6 0h4m9 0h1m43 0h1M53 57.5h1m45 0h1m28 0h1m2 0h1m9 0h1m13 0h1m3 0h1m6 0h1m1 0h1m7 0h1m6 0h2M147 58.5h1m1 0h1m8 0h1m15 0h1m13 0h1m5 0h1M72 59.5h1m14 0h1m26 0h2m18 0h2m8 0h1m8 0h1m19 0h1m1 0h1m5 0h1M89 60.5h1m52 0h1m1 0h1m42 0h1M49 61.5h1m31 0h1m2 0h1m11 0h1m5 0h1m2 0h1m4 0h1m1 0h2m41 0h1m10 0h1m11 0h1m5 0h1M105 62.5h1m45 0h1m4 0h1m7 0h1m10 0h1m10 0h1m34 0h1M60 63.5h1m8 0h1m20 0h1m36 0h1m6 0h1m27 0h1m39 0h1M127 64.5h1m1 0h1m35 0h1m36 0h1m8 0h1M70 65.5h1m13 0h1m1 0h1m16 0h1m6 0h1m15 0h2m1 0h1m45 0h1m10 0h1M66 66.5h1m7 0h1m28 0h1m4 0h1m4 0h1m2 0h1m14 0h2m2 0h1m17 0h1m11 0h1m29 0h1M78 67.5h1m7 0h1m17 0h1m2 0h1m17 0h1m2 0h1M71 68.5h1m3 0h1m6 0h1m2 0h1m9 0h1m13 0h1m16 0h1m20 0h1m25 0h1m22 0h1M71 69.5h1m20 0h2m4 0h1m2 0h1m58 0h1m13 0h1m6 0h1m1 0h1M78 70.5h1m13 0h1m18 0h1m12 0h1m10 0h1m2 0h1m35 0h1m12 0h1m6 0h1m15 0h1M71 71.5h1m14 0h1m10 0h1m8 0h1m4 0h1m1 0h2m24 0h1m31 0h1m23 0h1M61 72.5h2m4 0h1m5 0h1m35 0h1m6 0h1m40 0h1m26 0h1m4 0h1M49 73.5h1m26 0h2m28 0h1m12 0h1m2 0h1m33 0h1M113 74.5h1m21 0h1m3 0h1m46 0h1m25 0h1M48 75.5h1m46 0h1m5 0h1m12 0h1m12 0h1m2 0h1m2 0h1m4 0h1m1 0h1m13 0h1m12 0h1m6 0h1m15 0h1M60 76.5h1m52 0h1m22 0h1m2 0h1m13 0h1m5 0h1m1 0h1m26 0h1M41 77.5h1m42 0h1m21 0h1m5 0h1m3 0h1m4 0h2m3 0h1m19 0h1M67 78.5h1m39 0h1m22 0h1m11 0h1m11 0h1m7 0h1m18 0h1m4 0h1M53 79.5h1m20 0h1m37 0h1m64 0h1M91 80.5h1m12 0h1m15 0h1m16 0h1m13 0h1m26 0h1m12 0h1M71 81.5h1m8 0h1m15 0h1m25 0h1m3 0h1m4 0h1m29 0h1m41 0h1M74 82.5h1m11 0h1m6 0h1m22 0h1m30 0h1m29 0h1m2 0h1m12 0h1m1 0h1M69 83.5h1m14 0h1m5 0h1m18 0h1m22 0h1m2 0h1m12 0h1M83 84.5h1m23 0h1m1 0h1m3 0h2m70 0h1m20 0h1M76 85.5h1m31 0h1m4 0h1m28 0h1m7 0h1m48 0h1M101 86.5h1m15 0h1m5 0h1m33 0h1m9 0h1m12 0h1m16 0h1m6 0h1m3 0h1M99 87.5h1m6 0h1m39 0h1m7 0h1m5 0h1m46 0h1M99 88.5h1m7 0h1m6 0h2m39 0h1m19 0h1M94 89.5h1m26 0h1m5 0h1m20 0h1M69 90.5h1m19 0h1m13 0h1m36 0h1m22 0h1m13 0h1m20 0h1m10 0h1M48 91.5h1m28 0h1m14 0h2m2 0h1m2 0h1m2 0h1m16 0h1m65 0h1m10 0h1m3 0h1m9 0h1M75 92.5h1m21 0h1m25 0h1m3 0h1m1 0h1m34 0h1m6 0h2m35 0h1M108 93.5h1m1 0h1m56 0h1M85 94.5h1m51 0h1m4 0h1m6 0h1m3 0h1m20 0h1m35 0h1M114 95.5h1m9 0h2m4 0h1m3 0h2m12 0h1m9 0h1m14 0h1M95 96.5h1m9 0h1m15 0h1m2 0h1m1 0h1m4 0h1m10 0h1m12 0h1m31 0h1m15 0h1m7 0h1M84 97.5h1m51 0h1m7 0h1m19 0h1M75 98.5h1m48 0h1m51 0h1m17 0h1m3 0h1m3 0h1M111 99.5h1m31 0h1M107 100.5h1m24 0h1m62 0h1M92 101.5h1m4 0h1m38 0h1m17 0h1m13 0h1m31 0h1M86 102.5h1m47 0h1m8 0h1m19 0h2m17 0h1M100 103.5h1m3 0h1m22 0h1m22 0h1m12 0h1m45 0h1M65 104.5h1m68 0h1M117 105.5h1m32 0h1m22 0h1M64 106.5h1m53 0h1m36 0h1m31 0h1m9 0h1m14 0h1M78 107.5h1m25 0h1m9 0h1m33 0h1m2 0h1m20 0h1m6 0h1m1 0h1M50 108.5h1m61 0h1m11 0h1m30 0h1m30 0h1M121 109.5h1m46 0h1m10 0h1m11 0h1m7 0h2m3 0h1M76 110.5h1m129 0h1M76 111.5h1m24 0h1m4 0h1m52 0h1m17 0h1m24 0h1m1 0h1M103 112.5h1m28 0h1M79 113.5h1m36 0h1m15 0h1m18 0h1m14 0h1m34 0h1m3 0h1M94 114.5h1m57 0h1m25 0h1m22 0h1M86 115.5h1m67 0h1m24 0h1m5 0h1m26 0h1M134 116.5h1M123 117.5h1m26 0h1m5 0h3m38 0h1M66 118.5h1m82 0h1m26 0h1m6 0h1m7 0h1m19 0h2M63 119.5h1m78 0h1m5 0h1m27 0h1m2 0h1m19 0h1M124 120.5h1m5 0h1m11 0h1m9 0h1M89 121.5h1m5 0h1m52 0h1m8 0h1M128 122.5h2m3 0h1m23 0h1M80 123.5h1m126 0h1M98 124.5h1m35 0h1m10 0h1m1 0h1m48 0h1M123 125.5h1m29 0h1m30 0h1m28 0h1M126 126.5h1m15 0h1m10 0h1m27 0h2M127 127.5h1m9 0h1m1 0h2m2 0h1m1 0h1M108 128.5h1m14 0h1m39 0h1m25 0h1M90 129.5h1m1 0h1m28 0h1m7 0h1m62 0h1m11 0h1M84 130.5h1m40 0h1m41 0h1m32 0h1m2 0h1M88 131.5h1m30 0h1m6 0h1m12 0h1m2 0h1m7 0h2m1 0h1M132 132.5h1m13 0h1m5 0h1m6 0h1m48 0h1M112 133.5h1m3 0h1m7 0h1m3 0h1m2 0h1m21 0h1m1 0h1m30 0h1m3 0h1M92 134.5h1m18 0h1m17 0h1m25 0h1m10 0h1m4 0h1m28 0h1m5 0h1M87 135.5h1m17 0h1m25 0h1m21 0h1m35 0h1m1 0h1M110 136.5h1m4 0h1m3 0h1m15 0h1m2 0h1m39 0h1m30 0h1M86 137.5h1m8 0h1m19 0h1m3 0h1m1 0h2m9 0h1m10 0h1m7 0h1m4 0h1m5 0h1M112 138.5h1m5 0h1m3 0h1m17 0h1m20 0h1m7 0h1m9 0h1m16 0h1m10 0h1M83 139.5h1m4 0h1m9 0h1m1 0h2m7 0h1m1 0h1m1 0h1m5 0h1m2 0h1m1 0h1m25 0h1m5 0h1m9 0h1M87 140.5h1m1 0h1m15 0h1m3 0h1m7 0h1m6 0h1m19 0h1m6 0h1m13 0h1m6 0h1m20 0h1m3 0h1M102 141.5h1m1 0h1m2 0h1m2 0h1m10 0h2m3 0h1m49 0h1m11 0h1M108 142.5h4m5 0h1m2 0h1m6 0h1m12 0h1m25 0h1M95 143.5h2m5 0h1m1 0h2m1 0h2m2 0h1m6 0h1m3 0h1m4 0h1m11 0h1m20 0h2m54 0h1M91 144.5h1m11 0h1m6 0h1m3 0h1m1 0h1m2 0h1m3 0h2m5 0h1m6 0h1M90 145.5h1m4 0h1m1 0h1m3 0h1m2 0h1m2 0h1m3 0h2m3 0h1m3 0h1m1 0h1m1 0h1m4 0h1m38 0h1M83 146.5h1m5 0h1m10 0h1m1 0h2m1 0h1m1 0h1m12 0h1m1 0h1m3 0h1m1 0h1m14 0h1m5 0h1m64 0h1M95 147.5h1m3 0h2m2 0h1m1 0h2m1 0h1m1 0h1m2 0h1m6 0h2m10 0h1m6 0h1m2 0h2m5 0h1m1 0h1m4 0h1m16 0h1m27 0h1m5 0h1M88 148.5h1m1 0h1m5 0h3m7 0h1m4 0h1m2 0h1m1 0h1m2 0h3m6 0h1m3 0h1m17 0h1m15 0h1M86 149.5h1m1 0h3m2 0h1m2 0h1m1 0h1m4 0h1m1 0h1m1 0h5m2 0h2m3 0h1m1 0h2m1 0h2m1 0h1m14 0h1m7 0h1m10 0h1M78 150.5h1m12 0h1m1 0h1m4 0h1m2 0h1m3 0h1m2 0h4m1 0h1m3 0h1m2 0h1m37 0h1M86 151.5h1m3 0h1m2 0h2m4 0h1m5 0h1m1 0h1m2 0h1m1 0h2m2 0h2m1 0h1m9 0h1m12 0h2m29 0h1M73 152.5h2m3 0h1m12 0h1m6 0h3m1 0h4m1 0h2m6 0h1m1 0h5m4 0h1m2 0h1m6 0h1m8 0h3m3 0h1m2 0h1m4 0h2M88 153.5h2m6 0h1m1 0h1m2 0h1m2 0h4m1 0h2m1 0h1m2 0h2m1 0h1m2 0h1m2 0h1m7 0h1m5 0h1m6 0h1m34 0h1m30 0h1M86 154.5h1m2 0h1m1 0h1m2 0h3m2 0h1m1 0h3m2 0h4m4 0h1m6 0h1m1 0h2m10 0h1m11 0h1m22 0h1M90 155.5h1m1 0h1m1 0h1m1 0h5m2 0h1m5 0h1m3 0h2m1 0h1m1 0h3m13 0h1m5 0h1m9 0h1m32 0h2M63 156.5h1m4 0h1m9 0h1m8 0h1m7 0h1m1 0h1m1 0h2m2 0h2m2 0h1m1 0h1m11 0h1m2 0h3m1 0h1m1 0h1m15 0h1m5 0h1m21 0h1M74 157.5h1m1 0h1m7 0h1m3 0h3m4 0h1m1 0h4m1 0h3m2 0h1m13 0h1m2 0h1m2 0h3m8 0h1m13 0h1m8 0h1m11 0h1m38 0h1M84 158.5h2m1 0h1m4 0h3m3 0h9m2 0h1m1 0h7m1 0h1m5 0h2m3 0h1m1 0h1m1 0h1m21 0h1m3 0h1m13 0h1m13 0h1M79 159.5h1m8 0h1m1 0h5m1 0h9m1 0h2m2 0h1m3 0h1m6 0h1m2 0h1m5 0h1m3 0h1m1 0h1m15 0h1m54 0h1m33 0h1M81 160.5h2m4 0h3m4 0h10m1 0h2m1 0h2m5 0h2m1 0h1m3 0h1m1 0h2m3 0h1m24 0h1m9 0h1m2 0h1M65 161.5h1m13 0h1m1 0h2m2 0h1m2 0h1m2 0h1m1 0h15m2 0h1m2 0h1m3 0h2m2 0h1m2 0h1m4 0h1m4 0h1m7 0h1m11 0h2m18 0h1m24 0h1M87 162.5h1m1 0h16m1 0h1m2 0h1m2 0h2m1 0h1m1 0h4m4 0h1m2 0h2m23 0h1m3 0h1m10 0h1m10 0h1M71 163.5h1m1 0h1m2 0h2m3 0h1m1 0h1m4 0h18m2 0h1m2 0h2m7 0h2m2 0h2m6 0h1m2 0h2m5 0h1m4 0h1m2 0h1m3 0h2m3 0h1m22 0h1m12 0h1m14 0h1M80 164.5h1m2 0h3m1 0h18m3 0h1m6 0h1m2 0h1m3 0h1m1 0h2m1 0h2m5 0h1m8 0h1m4 0h1m6 0h1m7 0h1m1 0h1m16 0h1m11 0h1M76 165.5h1m2 0h1m1 0h1m1 0h1m1 0h21m3 0h6m8 0h1m10 0h1m1 0h2m6 0h1m13 0h1m14 0h1m12 0h1m7 0h1M69 166.5h1m2 0h1m3 0h1m1 0h2m2 0h7m1 0h15m3 0h1m3 0h1m2 0h1m2 0h1m1 0h3m1 0h1m2 0h1m2 0h1m5 0h1m1 0h1m16 0h1m1 0h1m4 0h1m23 0h1M74 167.5h1m5 0h1m1 0h23m1 0h1m1 0h2m1 0h1m1 0h1m8 0h1m2 0h1m5 0h1m1 0h2m2 0h1m3 0h2m5 0h1m3 0h1m9 0h1m8 0h1m16 0h1m1 0h1M68 168.5h1m2 0h1m2 0h1m4 0h14m1 0h9m2 0h2m5 0h3m1 0h1m4 0h1m8 0h1m2 0h1m1 0h1m7 0h1m5 0h1m13 0h1m10 0h1M72 169.5h4m1 0h7m1 0h18m1 0h1m1 0h1m3 0h3m9 0h1m4 0h1m7 0h1m6 0h1m11 0h1m10 0h1M64 170.5h1m1 0h1m3 0h1m3 0h30m5 0h1m1 0h1m4 0h1m2 0h2m1 0h1m2 0h1m6 0h1m3 0h1m3 0h2m2 0h2m1 0h1m14 0h1M65 171.5h1m4 0h34m1 0h1m3 0h3m1 0h1m3 0h2m5 0h1m5 0h2m11 0h1m12 0h2m2 0h2m24 0h1M63 172.5h1m2 0h1m1 0h1m1 0h15m1 0h3m1 0h12m2 0h1m1 0h1m3 0h1m1 0h2m2 0h1m1 0h3m5 0h1m4 0h1m4 0h1m7 0h2m2 0h1m2 0h1m6 0h1m4 0h1m27 0h1m11 0h1M60 173.5h1m9 0h32m1 0h1m1 0h1m1 0h2m1 0h2m2 0h1m2 0h2m1 0h2m2 0h1m1 0h1m3 0h1m2 0h1m1 0h1m12 0h1m9 0h1m4 0h1M64 174.5h1m2 0h21m1 0h12m1 0h1m5 0h1m1 0h1m1 0h1m1 0h1m3 0h1m2 0h1m14 0h1m4 0h1M62 175.5h1m2 0h2m1 0h37m2 0h1m1 0h1m3 0h1m9 0h1m3 0h1m4 0h1m1 0h1m5 0h1m4 0h1m61 0h1M61 176.5h1m1 0h1m3 0h32m1 0h2m1 0h1m1 0h1m3 0h3m2 0h1m1 0h1m8 0h1m6 0h1m6 0h1m34 0h1m4 0h1M63 177.5h1m1 0h4m1 0h4m1 0h9m1 0h14m2 0h1m2 0h3m2 0h1m1 0h1m1 0h1m7 0h2m2 0h2m7 0h1m2 0h1m1 0h1m2 0h1m10 0h1m5 0h1m8 0h1M56 178.5h1m1 0h1m3 0h2m1 0h32m2 0h4m1 0h1m8 0h2m2 0h4m2 0h2m2 0h1m1 0h1m18 0h1m9 0h1m12 0h1m21 0h1m7 0h1M55 179.5h2m3 0h1m3 0h29m1 0h3m4 0h1m7 0h1m11 0h1m3 0h2m2 0h1m4 0h1m1 0h1m2 0h1m2 0h1m10 0h1m8 0h1M56 180.5h1m3 0h2m1 0h32m3 0h2m1 0h1m5 0h1m1 0h2m1 0h2m4 0h1m6 0h1m3 0h1m18 0h1m25 0h1m31 0h1M52 181.5h1m1 0h1m2 0h1m4 0h32m1 0h3m1 0h3m3 0h2m4 0h2m2 0h1m2 0h2m1 0h1m2 0h1m1 0h2m6 0h1m3 0h1m13 0h1m14 0h1m1 0h1M56 182.5h1m3 0h33m1 0h2m6 0h1m2 0h1m1 0h5m1 0h1m1 0h1m14 0h1m15 0h1m3 0h2m35 0h1m16 0h1M59 183.5h35m1 0h1m3 0h2m5 0h2m9 0h1m3 0h1m3 0h1m7 0h1m9 0h1m10 0h1m9 0h1M52 184.5h1m1 0h1m1 0h31m2 0h1m1 0h1m1 0h1m1 0h1m2 0h1m4 0h1m5 0h1m2 0h1m5 0h1m1 0h1m2 0h1m5 0h1m1 0h1m8 0h1m39 0h1m16 0h1M57 185.5h33m3 0h1m5 0h1m4 0h1m1 0h2m2 0h2m1 0h1m2 0h1m5 0h1m2 0h1m11 0h1m1 0h1m13 0h1m34 0h1M49 186.5h3m4 0h28m1 0h2m1 0h1m1 0h2m3 0h2m2 0h1m25 0h1m1 0h1m32 0h1m1 0h1M47 187.5h2m1 0h1m3 0h32m1 0h1m1 0h2m2 0h1m1 0h1m3 0h1m4 0h1m3 0h1m1 0h1m4 0h1m1 0h1m5 0h1m1 0h1m14 0h1m22 0h1m13 0h1m11 0h1m51 0h1M48 188.5h1m4 0h33m1 0h1m7 0h2m3 0h1m3 0h1m6 0h1m1 0h3m2 0h1m2 0h1m3 0h1m25 0h1m17 0h1M49 189.5h3m1 0h6m1 0h20m1 0h4m1 0h2m3 0h1m12 0h2m1 0h1m3 0h1m4 0h1m4 0h1m1 0h1m5 0h1m2 0h1M44 190.5h1m6 0h28m1 0h4m1 0h3m8 0h1m1 0h1m20 0h1m5 0h1m5 0h1m2 0h1m62 0h1m8 0h1M44 191.5h1m1 0h2m1 0h32m3 0h1m1 0h3m2 0h1m5 0h1m2 0h1m2 0h1m1 0h1m2 0h1m7 0h1m9 0h1m13 0h1m20 0h1m35 0h1M41 192.5h1m2 0h1m2 0h1m1 0h31m5 0h1m34 0h1m2 0h1m31 0h1m39 0h1m4 0h1M43 193.5h2m3 0h30m1 0h1m3 0h1m1 0h1m5 0h1m8 0h1m6 0h1m21 0h1m14 0h1M44 194.5h1m3 0h8m1 0h20m7 0h2m2 0h1m5 0h1m6 0h1m1 0h3m5 0h1m9 0h1M44 195.5h1m2 0h21m1 0h7m2 0h1m1 0h1m3 0h1m7 0h2m22 0h1m4 0h1m6 0h1M43 196.5h1m3 0h28m1 0h1m1 0h1m19 0h1m10 0h1m1 0h1m1 0h1m22 0h1m6 0h1M43 197.5h1m2 0h29m5 0h1m8 0h1m62 0h1m9 0h1M37 198.5h1m3 0h1m1 0h1m3 0h11m1 0h15m2 0h1m7 0h1m10 0h1m1 0h1m6 0h1m8 0h1m65 0h1M39 199.5h1m2 0h2m2 0h11m1 0h13m3 0h2m4 0h1m35 0h1m5 0h1m3 0h1m3 0h1m2 0h1m3 0h1m29 0h1m17 0h1M42 200.5h1m3 0h24m1 0h1m5 0h1m2 0h1m12 0h1m6 0h1m14 0h1m10 0h1m4 0h1m34 0h1m1 0h2m41 0h1M40 201.5h1m1 0h1m3 0h10m1 0h11m1 0h1m2 0h1m16 0h1m20 0h1m14 0h1m18 0h1m1 0h1M37 202.5h1m7 0h16m1 0h5m1 0h1m2 0h1m1 0h2m11 0h1m78 0h1m42 0h1M40 203.5h2m2 0h6m1 0h14m5 0h1m1 0h1m1 0h1m1 0h1m25 0h1m18 0h1m39 0h1M37 204.5h1m5 0h10m1 0h11m5 0h1m41 0h1M38 205.5h1m2 0h1m3 0h18m3 0h1m2 0h2m97 0h1M32 206.5h1m4 0h1m3 0h1m2 0h19m1 0h1m5 0h1m10 0h1m17 0h1m10 0h1M38 207.5h1m4 0h1m1 0h12m1 0h2m3 0h1m6 0h1m48 0h1M40 208.5h1m2 0h1m1 0h15m4 0h1m2 0h1m23 0h1m38 0h1m28 0h1m30 0h1M31 209.5h1m2 0h1m1 0h1m1 0h1m4 0h15m30 0h1m88 0h1M22 210.5h2m13 0h3m2 0h1m1 0h12m1 0h1m5 0h1m1 0h1m38 0h1M25 211.5h1m14 0h1m2 0h1m1 0h11m2 0h1m3 0h1M23 212.5h1m5 0h1m9 0h1m1 0h1m1 0h2m1 0h1m1 0h7m1 0h1m2 0h2m32 0h1m38 0h1m17 0h1M22 213.5h1m15 0h1m4 0h2m1 0h1m1 0h4m4 0h1m4 0h1m1 0h1m56 0h1m1 0h1m4 0h1m75 0h1M24 214.5h2m5 0h1m2 0h1m3 0h1m2 0h2m2 0h1m3 0h1m5 0h1m1 0h1m12 0h1M34 215.5h1m6 0h1m2 0h1m1 0h1m1 0h2m1 0h1m3 0h1m2 0h1m1 0h1m1 0h1m9 0h1M12 216.5h1m8 0h1m7 0h1m5 0h1m2 0h1m2 0h1m1 0h1m1 0h4m4 0h1m7 0h1M24 217.5h2m3 0h1m4 0h1m3 0h1m3 0h1m3 0h1m4 0h1m2 0h2m76 0h1m6 0h1M16 218.5h1m2 0h1m7 0h2m3 0h1m2 0h2m9 0h1m4 0h2m70 0h1m23 0h1M0 219.5h1m12 0h1m13 0h1m1 0h1m1 0h1m3 0h1m3 0h1m2 0h1m2 0h1m4 0h1m1 0h1m3 0h1m151 0h1M14 220.5h1m11 0h2m1 0h1m5 0h2m5 0h3m2 0h1m15 0h1m91 0h1M23 221.5h3m3 0h1m4 0h2m1 0h1m4 0h1m1 0h1m1 0h1m2 0h1m106 0h1m34 0h1m16 0h1M21 222.5h1m1 0h1m5 0h1m1 0h1m4 0h1m4 0h1m6 0h1m4 0h1m3 0h1m11 0h1m50 0h1M13 223.5h1m9 0h1m6 0h2m5 0h1m7 0h1M17 224.5h1m7 0h1m6 0h2m7 0h1m1 0h1m1 0h1m115 0h1M0 225.5h1m8 0h1m11 0h3m5 0h1m1 0h1m2 0h1m2 0h1m1 0h1m8 0h1m1 0h1m111 0h1M18 226.5h1m3 0h3m2 0h1m2 0h1m3 0h3m6 0h1m5 0h1m16 0h1m89 0h1M14 227.5h1m23 0h2m6 0h1m130 0h1M0 228.5h1m13 0h1m12 0h1m5 0h1m9 0h1m2 0h1m1 0h1m21 0h1M12 229.5h1m14 0h1m4 0h1m1 0h1m9 0h1m2 0h1m2 0h1m122 0h1m17 0h1m10 0h3M14 230.5h1m3 0h2m1 0h1m4 0h1m8 0h2m1 0h2m1 0h1m1 0h1m3 0h1m9 0h1m102 0h1M0 231.5h1m9 0h2m4 0h2m5 0h2m4 0h1m2 0h2m8 0h1m97 0h1m55 0h1M13 232.5h1m3 0h2m2 0h2m6 0h1m6 0h1m3 0h1m4 0h1m154 0h1M14 233.5h1m2 0h1m9 0h2m1 0h1m1 0h1m5 0h1m82 0h1m9 0h1m20 0h1M7 234.5h1m1 0h1m4 0h2m6 0h1m4 0h1m5 0h1m14 0h1m133 0h1M12 235.5h1m1 0h1m6 0h1m2 0h2m2 0h2m3 0h1m5 0h1m15 0h1m144 0h1m4 0h1M2 236.5h1m10 0h1m2 0h1m1 0h2m4 0h2m2 0h1m1 0h1m2 0h1m4 0h1m103 0h1m62 0h1M4 237.5h3m1 0h1m12 0h5m2 0h1m3 0h1m98 0h1m4 0h1m2 0h1M2 238.5h1m6 0h1m12 0h1m4 0h1m3 0h1m1 0h1m6 0h1M7 239.5h1m1 0h1m2 0h1m8 0h1m1 0h1m2 0h1M0 240.5h1m3 0h1m11 0h1m9 0h2m1 0h1M0 241.5h2m10 0h1m5 0h1m184 0h1M11 242.5h1m4 0h1m10 0h1m1 0h1m145 0h1M1 243.5h1m1 0h2m2 0h1m6 0h2m177 0h1M8 244.5h1m4 0h1m13 0h1m109 0h1m64 0h1M10 245.5h1m9 0h1M0 246.5h1m2 0h1m6 0h1m2 0h1m1 0h1m12 0h3m5 0h1m96 0h1m19 0h1m8 0h1m16 0h1M0 247.5h1m10 0h1m1 0h1m7 0h1M0 248.5h1m10 0h1m14 0h1M3 249.5h1m8 0h1m10 0h1m103 0h1m7 0h1M0 252.5h1m123 0h1m58 0h1M24 253.5h1m125 0h1m1 0h1m2 0h1M0 254.5h2m1 0h3m1 0h2m1 0h1m1 0h1m1 0h4m3 0h2m1 0h1m1 0h2m2 0h1m1 0h1m1 0h1m2 0h2m12 0h1m1 0h3m1 0h1m1 0h1m23 0h2m5 0h2m2 0h2m3 0h1m1 0h2m2 0h1m3 0h10m8 0h3m1 0h1m1 0h4m1 0h2m3 0h2m5 0h9m10 0h9m2 0h6m4 0h3m1 0h5m1 0h3m1 0h5m2 0h1M0 255.5h6m1 0h2m1 0h1m1 0h1m1 0h4m3 0h2m1 0h1m1 0h2m2 0h1m1 0h1m1 0h1m2 0h2m12 0h1m1 0h3m1 0h1m1 0h1m23 0h2m5 0h2m2 0h2m3 0h1m1 0h2m2 0h1m3 0h10m8 0h3m1 0h1m1 0h4m1 0h2m3 0h2m5 0h9m10 0h9m2 0h6m4 0h3m1 0h5m1 0h3m1 0h5m2 0h1" stroke-width="1"/></g></g>
<rect x="476.00" y="54.50" width="2.80" height="790.50" fill="rgba(0,0,0,0.25)"/><rect x="478.80" y="54.50" width="3.10" height="790.50" fill="#333"/><rect x="120.30" y="487.30" width="776.60" height="4.80" fill="rgba(60,60,60,0.65)"/>
<use href="#ax"/>
</g>
<g transform="translate(0,1069.5)">
<g filter="url(#bl)"><g transform="translate(120.3,57.3) scale(3.017,3.077)" fill="none" stroke="#f00"><path d="M170 17.5h1M143 21.5h1M67 22.5h1M91 24.5h1m90 0h1M158 25.5h1M152 27.5h1M132 28.5h1m53 0h1M108 29.5h1m36 0h1m17 0h1m31 0h1M133 30.5h1m11 0h1m4 0h1m15 0h1M62 31.5h1m36 0h1m34 0h1M96 32.5h1m23 0h1m13 0h1m22 0h1M116 33.5h1m59 0h1M141 34.5h1m28 0h1M90 35.5h1m24 0h1m15 0h1m1 0h2m3 0h1m9 0h1m11 0h1M125 36.5h1m8 0h1m9 0h1m20 0h1m5 0h1m10 0h1m8 0h1M90 37.5h1m55 0h1m1 0h1m3 0h1m11 0h1m17 0h1M112 38.5h1m2 0h1m24 0h1m4 0h1m3 0h1m1 0h1m7 0h1m17 0h1m29 0h1M94 39.5h1m2 0h1m6 0h1m3 0h1m19 0h1m1 0h1m14 0h1m4 0h1m7 0h3m3 0h1m15 0h1m3 0h1M66 40.5h1m34 0h1m25 0h2m10 0h1m5 0h1m5 0h1m3 0h1m10 0h1m20 0h1M63 41.5h1m8 0h1m5 0h1m11 0h1m13 0h1m10 0h1m9 0h1m5 0h1m4 0h2m2 0h1m9 0h1m1 0h1m2 0h1m1 0h1m15 0h1M44 42.5h1m20 0h1m5 0h1m14 0h1m28 0h1m1 0h1m12 0h1m51 0h1m1 0h1m18 0h1m6 0h1M44 43.5h2m11 0h1m26 0h1m7 0h1m10 0h1m7 0h1m3 0h1m1 0h1m2 0h1m12 0h1m2 0h1m7 0h1m5 0h1m1 0h1m8 0h1m21 0h1M51 44.5h1m11 0h1m15 0h1m4 0h1m44 0h1m9 0h1m2 0h3m1 0h1m3 0h1m3 0h1m2 0h2m5 0h1m7 0h1M90 45.5h1m28 0h1m10 0h1m3 0h1m2 0h1m1 0h1m3 0h2m1 0h2m4 0h1m8 0h1M102 46.5h1m16 0h1m9 0h1m2 0h1m1 0h1m12 0h1m10 0h2m4 0h1m5 0h1m3 0h1m1 0h1m15 0h2M61 47.5h1m6 0h1m39 0h1m11 0h1m3 0h1m5 0h1m2 0h1m4 0h2m15 0h1m2 0h1m4 0h1M38 48.5h1m19 0h1m12 0h1m34 0h1m2 0h1m14 0h1m3 0h2m4 0h1m4 0h1m4 0h1m2 0h1m3 0h2m7 0h1m2 0h1m3 0h1m11 0h1M65 49.5h1m42 0h1m14 0h2m30 0h1m7 0h1m3 0h1m10 0h1m6 0h1M47 50.5h1m33 0h1m8 0h1m7 0h1m5 0h1m8 0h1m3 0h1m8 0h1m13 0h1m8 0h1m1 0h1m2 0h1m1 0h1m10 0h1m2 0h2m4 0h1M55 51.5h1m20 0h1m7 0h1m15 0h1m1 0h1m3 0h1m1 0h1m8 0h1m7 0h1m5 0h1m1 0h2m1 0h1m6 0h1m2 0h1m1 0h1m2 0h2m1 0h1m1 0h3m3 0h1m1 0h1m1 0h1m2 0h1m4 0h1m4 0h1m14 0h1M65 52.5h1m47 0h1m2 0h1m2 0h1m1 0h1m10 0h1m2 0h1m2 0h3m1 0h1m3 0h2m1 0h2m5 0h1m2 0h1m3 0h2M37 53.5h1m9 0h1m1 0h1m37 0h1m21 0h3m3 0h1m1 0h1m1 0h1m4 0h1m14 0h1m2 0h1m2 0h2m2 0h1m16 0h1m12 0h1m2 0h1m3 0h1M56 54.5h1m11 0h1m12 0h1m1 0h1m18 0h2m2 0h1m13 0h1m12 0h2m2 0h2m1 0h1m1 0h2m15 0h1m7 0h2m1 0h1m32 0h1M70 55.5h1m23 0h1m1 0h2m1 0h1m10 0h1m1 0h1m8 0h1m3 0h1m6 0h1m3 0h2m1 0h1m1 0h1m3 0h2m4 0h1m1 0h1m1 0h2m4 0h1m2 0h2m2 0h1M62 56.5h1m3 0h1m34 0h1m13 0h1m3 0h1m2 0h1m1 0h1m3 0h1m2 0h1m7 0h1m5 0h1m1 0h1m3 0h1m3 0h2m1 0h1m2 0h1m6 0h1m3 0h1m3 0h1m4 0h1m3 0h1M52 57.5h1m49 0h1m10 0h1m15 0h3m1 0h1m3 0h1m5 0h1m2 0h1m8 0h1m4 0h1m1 0h1m14 0h1m2 0h1m6 0h1M40 58.5h1m28 0h1m19 0h1m12 0h1m18 0h1m3 0h1m1 0h1m1 0h2m2 0h1m11 0h1m1 0h2m3 0h1m6 0h1m3 0h1m6 0h1m7 0h1M65 59.5h1m10 0h1m31 0h1m5 0h2m10 0h1m5 0h2m1 0h1m3 0h1m6 0h2m1 0h2m7 0h1m3 0h1m9 0h1m3 0h1m2 0h1m11 0h1m12 0h1M87 60.5h1m33 0h1m11 0h1m1 0h1m5 0h1m9 0h1m3 0h1m6 0h4m4 0h1m13 0h1m7 0h1M34 61.5h1m7 0h1m43 0h1m3 0h2m5 0h1m5 0h1m3 0h1m18 0h1m9 0h1m5 0h1m5 0h1m2 0h3m4 0h1m11 0h1m21 0h1m1 0h1M40 62.5h1m6 0h2m6 0h1m1 0h1m22 0h1m1 0h1m21 0h1m42 0h1m3 0h1m3 0h2m2 0h1m1 0h1M62 63.5h1m4 0h1m4 0h2m4 0h1m9 0h1m8 0h1m4 0h1m1 0h1m9 0h1m9 0h1m4 0h1m13 0h1m1 0h1m10 0h1m7 0h1M43 64.5h1m7 0h2m44 0h1m1 0h1m8 0h1m13 0h1m10 0h2m4 0h1m2 0h1m13 0h1m1 0h1m17 0h1m1 0h1M54 65.5h1m8 0h1m16 0h1m34 0h1m2 0h1m14 0h1m1 0h1m15 0h1m3 0h1m7 0h1m11 0h1m7 0h1M36 66.5h1m30 0h1m21 0h1m14 0h1m2 0h1m5 0h1m8 0h3m1 0h1m4 0h1m5 0h1m10 0h1m12 0h1m22 0h1M76 67.5h1m9 0h1m4 0h1m29 0h1m2 0h1m10 0h1m6 0h1m12 0h1m11 0h1M111 68.5h1m7 0h1m2 0h1m35 0h1M117 69.5h1m2 0h1m30 0h1m12 0h1m15 0h1M118 70.5h1m42 0h1m33 0h1M97 71.5h1m18 0h1m11 0h1m17 0h2m9 0h1m2 0h1M61 72.5h1m20 0h1m33 0h2m3 0h1m29 0h2m1 0h1m10 0h1M84 73.5h1m15 0h1m32 0h1m3 0h1m71 0h1M91 74.5h1m10 0h1m20 0h1m29 0h1M156 75.5h1m18 0h1M85 76.5h1m11 0h1M98 77.5h1m68 0h1m43 0h1M161 78.5h1m12 0h2M83 79.5h1m1 0h1m19 0h1m25 0h1m9 0h2m44 0h1m2 0h1M106 80.5h1m13 0h1m47 0h1m15 0h1M72 81.5h1m16 0h1m82 0h1m3 0h1m16 0h1M66 82.5h1m62 0h1m2 0h1m11 0h1m55 0h1M67 83.5h1m62 0h1m42 0h1m33 0h1M81 84.5h1m7 0h1m9 0h1m30 0h1m3 0h1m40 0h1M63 85.5h1m25 0h1m17 0h1m4 0h1m14 0h2m18 0h1M107 86.5h1m21 0h1m41 0h1m19 0h1M124 87.5h2m40 0h1m26 0h1M108 88.5h1m10 0h1m1 0h1m12 0h1m25 0h1m9 0h1m18 0h1M60 89.5h1m35 0h1M69 90.5h1m19 0h1m76 0h1m20 0h1m3 0h2M138 91.5h1m16 0h1m4 0h1m13 0h1M72 92.5h1m52 0h1m15 0h1M83 93.5h1m7 0h1m64 0h1m10 0h1M158 94.5h1m29 0h1M60 95.5h1m34 0h1m8 0h1m14 0h1m51 0h1m1 0h1m7 0h1M60 96.5h1m26 0h1m27 0h1m4 0h1m28 0h1m21 0h1m3 0h1M135 97.5h1M59 98.5h1m23 0h2m12 0h1m47 0h1m5 0h1m38 0h1M122 99.5h1m8 0h1m50 0h1m30 0h1M172 100.5h1m18 0h1M75 101.5h1m44 0h1m2 0h1m9 0h1m4 0h1m13 0h1m27 0h1M69 102.5h1m36 0h1m37 0h1m3 0h1m18 0h1m3 0h1m5 0h1M65 103.5h1m17 0h1m2 0h1m29 0h1m17 0h1M90 104.5h1m62 0h1m30 0h1m1 0h1M94 105.5h1m26 0h1m19 0h1m5 0h1m15 0h1m15 0h1M114 106.5h1m13 0h1m15 0h1M137 107.5h1m33 0h1m9 0h1M133 108.5h1m2 0h1m10 0h1M61 109.5h1m25 0h1m80 0h1m14 0h1M76 110.5h1m44 0h1m33 0h1m5 0h1m10 0h1m3 0h1m2 0h1M71 111.5h1m20 0h1m27 0h2m13 0h1m71 0h1M82 112.5h1m51 0h1m18 0h1M88 113.5h1m40 0h1m21 0h1m26 0h1M79 114.5h1m22 0h1m6 0h1m70 0h1m7 0h1M187 115.5h1M63 116.5h1m95 0h1m17 0h1m4 0h1M62 117.5h1m14 0h1m62 0h1m6 0h1m1 0h1m7 0h1m3 0h1m16 0h1M65 118.5h1m51 0h1m4 0h1m18 0h1m15 0h1m6 0h1M62 119.5h1m83 0h1m17 0h1m5 0h1M105 120.5h1m45 0h2m23 0h1M110 121.5h1m16 0h1m13 0h1m2 0h1M89 122.5h1m4 0h1m36 0h1m3 0h2m3 0h1m4 0h1m1 0h1m12 0h1M98 123.5h1m3 0h2m6 0h1m7 0h1m7 0h1m18 0h2M103 124.5h3m10 0h2m51 0h1m1 0h1M87 125.5h1m22 0h1m8 0h1m2 0h1m49 0h1M75 126.5h1m21 0h2m4 0h1m12 0h1m11 0h1m25 0h1m38 0h1M89 127.5h1m7 0h1m1 0h1m8 0h1m1 0h1m5 0h1m4 0h1m57 0h1m9 0h1m3 0h1M99 128.5h1m2 0h1m3 0h1m2 0h1m4 0h1m2 0h1m11 0h1m11 0h1m8 0h2m8 0h1m19 0h1m7 0h1M91 129.5h1m19 0h1m7 0h2m1 0h2m6 0h2m32 0h1M73 130.5h1m22 0h1m2 0h1m4 0h1m2 0h1m5 0h1m3 0h1m1 0h1m2 0h1m1 0h1m6 0h1m17 0h1m1 0h1m41 0h1M93 131.5h1m7 0h1m4 0h1m8 0h1m10 0h1m10 0h1m52 0h1M86 132.5h1m8 0h1m3 0h2m13 0h2m5 0h2m6 0h1m1 0h2m33 0h1m15 0h1m2 0h1m6 0h1M67 133.5h1m28 0h1m5 0h1m1 0h1m3 0h1m14 0h1m12 0h1m11 0h1m1 0h1m1 0h1m20 0h1m2 0h1m11 0h1M84 134.5h1m1 0h1m6 0h1m5 0h1m2 0h1m2 0h1m13 0h2m2 0h2m34 0h1m20 0h1M98 135.5h1m5 0h1m3 0h1m4 0h1m1 0h1m2 0h2m3 0h2m1 0h1m46 0h1m9 0h1M87 136.5h1m6 0h1m7 0h4m1 0h2m1 0h3m2 0h1m1 0h3m2 0h1m1 0h1m4 0h1m9 0h2m4 0h1m7 0h1m13 0h2m10 0h1M110 137.5h4m1 0h2m4 0h1m3 0h1m2 0h1m15 0h1m4 0h1m20 0h1m3 0h1m2 0h1M103 138.5h1m5 0h1m2 0h4m6 0h1m6 0h1m6 0h1m16 0h1m38 0h1M80 139.5h1m17 0h2m4 0h1m1 0h4m3 0h1m1 0h2m11 0h1m1 0h2m7 0h1m1 0h1m8 0h1m5 0h1m14 0h1m2 0h1M97 140.5h1m3 0h1m3 0h2m2 0h1m5 0h1m6 0h1m1 0h2m2 0h1m14 0h1m86 0h1M97 141.5h2m1 0h4m3 0h4m1 0h1m4 0h1m9 0h1m75 0h1M78 142.5h1m13 0h1m6 0h2m1 0h3m1 0h8m2 0h2m1 0h1m1 0h1m1 0h2m18 0h1m15 0h1m2 0h1m8 0h1M92 143.5h1m2 0h2m2 0h3m3 0h1m1 0h8m1 0h2m1 0h3m31 0h1m35 0h1M90 144.5h1m1 0h1m1 0h1m7 0h14m1 0h1m1 0h1m2 0h4M92 145.5h1m1 0h2m1 0h1m4 0h12m2 0h6M93 146.5h1m1 0h2m2 0h17m1 0h1m5 0h2m1 0h1m14 0h1m2 0h1m9 0h1M91 147.5h1m5 0h1m1 0h16m1 0h2m2 0h2m3 0h1m3 0h2m4 0h1m4 0h1M88 148.5h2m4 0h21m3 0h1m4 0h1m4 0h1m9 0h2m8 0h1M86 149.5h2m4 0h1m4 0h18m1 0h2m3 0h1m1 0h1m2 0h1m5 0h1m1 0h1m24 0h1M91 150.5h2m1 0h1m1 0h18m1 0h1m7 0h1m4 0h1m4 0h1m15 0h1M89 151.5h1m2 0h22m6 0h1m2 0h1m19 0h1m2 0h1m14 0h1m37 0h1M90 152.5h23m1 0h1m2 0h3m5 0h1m43 0h1M81 153.5h2m2 0h1m1 0h1m2 0h22m1 0h1m5 0h1m15 0h1m1 0h2m9 0h1m14 0h1M80 154.5h3m2 0h1m3 0h24m3 0h2m6 0h1m1 0h1m2 0h1m17 0h1m10 0h2m1 0h1M79 155.5h1m6 0h15m1 0h12m1 0h1m1 0h1m2 0h1m5 0h1m5 0h1m14 0h1M76 156.5h1m5 0h1m2 0h26m1 0h2m1 0h1m16 0h2m1 0h1m10 0h1M84 157.5h1m1 0h25m2 0h1m4 0h1m1 0h1m6 0h2m1 0h1m1 0h1m9 0h1m10 0h1M77 158.5h1m2 0h1m2 0h22m1 0h4m45 0h1M74 159.5h1m1 0h1m4 0h8m1 0h22m1 0h3m2 0h2m5 0h1m1 0h1m9 0h1M81 160.5h28m4 0h1m1 0h2m1 0h1m19 0h1m3 0h1M74 161.5h1m1 0h1m1 0h31m1 0h1m1 0h1m6 0h1m5 0h1m16 0h1m27 0h1m32 0h1M67 162.5h1m3 0h1m5 0h2m1 0h28m1 0h1m2 0h1m8 0h1m3 0h1m2 0h1m2 0h1m2 0h1m2 0h1m2 0h1m6 0h1m7 0h1m10 0h1m1 0h1M67 163.5h1m5 0h2m2 0h29m1 0h3m5 0h1m3 0h1m6 0h1m1 0h3m4 0h1m1 0h1m6 0h1m13 0h1m30 0h1M68 164.5h1m4 0h1m2 0h14m1 0h12m3 0h2m2 0h2m4 0h1m6 0h1m1 0h1m12 0h1m24 0h1m14 0h1M63 165.5h2m3 0h1m1 0h1m1 0h1m1 0h28m2 0h1m2 0h3m2 0h1m3 0h2m14 0h1m8 0h1m28 0h1M66 166.5h1m6 0h11m1 0h18m2 0h1m5 0h1m11 0h2m4 0h1m5 0h1m3 0h1m2 0h1m2 0h1m39 0h1M62 167.5h1m1 0h1m2 0h2m1 0h20m1 0h10m2 0h1m1 0h6m8 0h1m1 0h1m6 0h2m23 0h2M61 168.5h1m1 0h1m2 0h2m2 0h30m2 0h2m2 0h2m1 0h2m3 0h1m1 0h2m2 0h1m29 0h1m24 0h1M62 169.5h2m4 0h31m1 0h1m4 0h2m5 0h1m3 0h1m2 0h1m1 0h1m2 0h2m7 0h1m1 0h1m3 0h1m9 0h1m14 0h1M65 170.5h1m1 0h32m5 0h5m1 0h2m1 0h3m8 0h1m1 0h1m2 0h1m2 0h2M57 171.5h1m6 0h1m1 0h1m1 0h29m1 0h1m1 0h1m1 0h2m1 0h1m2 0h1m7 0h1m10 0h1m8 0h1m4 0h1M58 172.5h1m5 0h34m1 0h1m3 0h1m6 0h1m4 0h1m8 0h1m2 0h1m1 0h1m17 0h1m18 0h2m31 0h1M60 173.5h1m2 0h13m1 0h20m4 0h4m1 0h3m1 0h1m5 0h2m26 0h1M56 174.5h1m4 0h36m4 0h2m5 0h3m2 0h1m7 0h2m17 0h1m1 0h1m5 0h1m7 0h1m22 0h1M54 175.5h2m4 0h1m1 0h31m1 0h8m2 0h1m2 0h2m4 0h1m3 0h1m1 0h1m3 0h1m3 0h1m2 0h1m1 0h1m2 0h1m6 0h1M53 176.5h3m3 0h4m1 0h27m2 0h1m5 0h1m3 0h2m1 0h1m1 0h2m2 0h1m3 0h1m5 0h1m2 0h1m1 0h4m18 0h1m39 0h1M58 177.5h32m2 0h5m1 0h1m3 0h3m1 0h1m1 0h2m9 0h1m3 0h2m3 0h2m7 0h1m2 0h1m5 0h1m10 0h1m31 0h1M56 178.5h32m3 0h1m5 0h1m4 0h1m1 0h1m3 0h1m6 0h3m7 0h1m4 0h1m35 0h1M57 179.5h32m1 0h2m2 0h2m8 0h1m1 0h2m4 0h2m2 0h1m31 0h1m2 0h1M47 180.5h1m2 0h1m4 0h31m1 0h1m3 0h4m3 0h4m2 0h1m7 0h1m13 0h1m1 0h1m8 0h1M51 181.5h1m3 0h1m2 0h28m1 0h2m1 0h1m2 0h2m1 0h1m1 0h1m2 0h1m4 0h1m2 0h1m15 0h1m3 0h1m2 0h1m86 0h1M47 182.5h1m2 0h3m1 0h30m7 0h2m1 0h1m2 0h2m1 0h2m4 0h1m3 0h1m14 0h1m20 0h1m2 0h1m1 0h1m22 0h1m21 0h1M47 183.5h1m6 0h7m1 0h20m2 0h5m1 0h2m3 0h1m11 0h1m10 0h1m15 0h1m29 0h1M52 184.5h7m1 0h21m3 0h2m2 0h1m5 0h2m1 0h1m4 0h1m3 0h1m6 0h1m34 0h1m39 0h1m1 0h1M45 185.5h1m6 0h10m1 0h5m1 0h13m3 0h2m1 0h2m18 0h2m20 0h1m16 0h1M43 186.5h1m2 0h2m1 0h32m1 0h2m2 0h1m6 0h1m1 0h2m4 0h1m7 0h1m9 0h2m5 0h1m2 0h2m17 0h1m22 0h1M44 187.5h3m1 0h32m6 0h1m4 0h1m2 0h1m4 0h1m5 0h1m22 0h1m10 0h1m22 0h1m27 0h1M43 188.5h1m2 0h1m2 0h29m1 0h2m2 0h1m9 0h1m7 0h2m45 0h1M44 189.5h2m3 0h29m1 0h1m20 0h1m3 0h2m4 0h3m7 0h1m33 0h1m6 0h1M42 190.5h1m4 0h30m5 0h2m7 0h1m1 0h1m3 0h1m10 0h1m16 0h1M46 191.5h28m4 0h1m12 0h2m1 0h1m8 0h1m3 0h1m6 0h1m9 0h1m9 0h1m6 0h1m5 0h1m14 0h1M43 192.5h1m1 0h3m1 0h25m2 0h2m3 0h1m16 0h2m4 0h1m3 0h1m43 0h1m9 0h1M40 193.5h1m1 0h1m2 0h27m2 0h1m2 0h3m1 0h1m4 0h1m20 0h1m8 0h1m16 0h2M39 194.5h2m4 0h26m3 0h1m2 0h3m5 0h1m43 0h1m3 0h1m39 0h1M38 195.5h1m1 0h3m1 0h26m1 0h2m1 0h1m7 0h1m17 0h1m10 0h1m28 0h1m25 0h1M40 196.5h1m1 0h9m1 0h17m7 0h1m9 0h1m8 0h1m37 0h1m2 0h1m10 0h1m13 0h1m1 0h1M38 197.5h1m1 0h2m1 0h18m1 0h5m1 0h1m1 0h1m6 0h1m97 0h1M36 198.5h1m2 0h1m3 0h21m2 0h1m1 0h2m1 0h2m24 0h1M42 199.5h7m1 0h14m5 0h1M34 200.5h1m2 0h2m2 0h22m2 0h1m41 0h1m21 0h1M34 201.5h2m4 0h13m1 0h3m1 0h5m31 0h1M37 202.5h2m3 0h16m4 0h1m2 0h2m2 0h1m19 0h1m15 0h1m17 0h1m13 0h1m18 0h1m32 0h1M34 203.5h2m5 0h16m2 0h1m31 0h1m15 0h1m34 0h1m21 0h1M29 204.5h1m6 0h1m5 0h14m3 0h1m3 0h1m1 0h1m10 0h1M34 205.5h1m5 0h1m1 0h8m1 0h7m1 0h1m59 0h1M31 206.5h1m3 0h3m5 0h6m2 0h6m2 0h1m84 0h1m6 0h1M36 207.5h1m1 0h3m1 0h12m2 0h1m75 0h1M28 208.5h1m4 0h1m2 0h1m2 0h1m3 0h7m1 0h2m2 0h2m2 0h2m80 0h1M32 209.5h1m5 0h1m2 0h11m3 0h1m1 0h1m24 0h1m31 0h1m60 0h1M27 210.5h2m9 0h2m1 0h1m2 0h8m6 0h1m20 0h1m54 0h1m43 0h1M17 211.5h1m1 0h1m8 0h1m2 0h1m6 0h1m1 0h2m2 0h11m1 0h1m2 0h1m97 0h1M26 212.5h1m1 0h1m1 0h1m1 0h1m1 0h2m1 0h5m1 0h1m1 0h1m3 0h2m3 0h1m4 0h1m1 0h1m128 0h1M19 213.5h1m17 0h1m5 0h4m1 0h3m3 0h3M27 214.5h1m1 0h1m3 0h1m1 0h1m13 0h1m106 0h1M15 215.5h1m10 0h2m4 0h1m4 0h1m1 0h1m1 0h2m2 0h1m2 0h2m4 0h1m37 0h1M7 216.5h1m14 0h1m5 0h1m1 0h3m4 0h1m1 0h1m2 0h1m1 0h1m3 0h1m3 0h2m75 0h1m17 0h1M25 217.5h1m1 0h2m3 0h1m2 0h1m2 0h1m6 0h1m6 0h1M24 218.5h2m8 0h1m4 0h1m4 0h1m2 0h4m74 0h1m64 0h1M20 219.5h1m6 0h2m6 0h1m3 0h1m18 0h1m126 0h1M7 220.5h1m15 0h1m1 0h2m2 0h3m3 0h1m6 0h2m6 0h1m1 0h1m69 0h1M11 221.5h1m3 0h1m18 0h1m3 0h1m6 0h3m9 0h1M15 222.5h1m10 0h1m23 0h1m122 0h1M17 223.5h1m2 0h1m1 0h1m7 0h1m1 0h1m2 0h1m2 0h2m2 0h1m4 0h1m1 0h1M0 224.5h1m27 0h1m5 0h1m4 0h1m6 0h2m86 0h1M13 225.5h1m6 0h1m3 0h1m2 0h1m2 0h1m1 0h1m1 0h1m3 0h1m8 0h1m133 0h1M14 226.5h1m4 0h1m4 0h1m4 0h2M18 227.5h1m14 0h2m1 0h1m2 0h1m4 0h1m3 0h1M7 228.5h1m11 0h1m3 0h1m1 0h1m2 0h1m2 0h1m1 0h1m3 0h1m132 0h1M9 229.5h1m20 0h1m4 0h1m11 0h1m73 0h1M21 230.5h1m2 0h1m7 0h1m1 0h1m8 0h1m2 0h1m6 0h1M7 231.5h1m9 0h1m5 0h3m8 0h1m10 0h1M7 232.5h1m12 0h1m1 0h2m2 0h1m9 0h1m93 0h1M5 233.5h1m4 0h1m6 0h1m8 0h1m1 0h1m2 0h1m1 0h2m105 0h1M27 234.5h1m8 0h1M1 235.5h1m8 0h1m14 0h1m13 0h1m118 0h1m1 0h1M4 236.5h1m12 0h1m6 0h1m10 0h1M0 237.5h1m5 0h1m3 0h2m2 0h1m6 0h1m1 0h1m4 0h2m127 0h1m21 0h1M4 238.5h1m10 0h1m5 0h1m11 0h1M6 239.5h1m15 0h2m1 0h1m1 0h1m6 0h1m123 0h1m5 0h1M26 240.5h1m2 0h1m5 0h1m93 0h1m53 0h1M0 241.5h1m1 0h1m14 0h3m8 0h1m19 0h1M4 242.5h1m1 0h1m14 0h1m167 0h1m1 0h1M3 243.5h1m2 0h1m13 0h1m2 0h1M4 244.5h2m4 0h1M137 245.5h1m49 0h1M0 246.5h1m33 0h1M0 247.5h1m7 0h1m11 0h1m3 0h1m4 0h1m94 0h1M0 248.5h1m7 0h1m1 0h1M0 249.5h1m2 0h1m6 0h1m12 0h1M0 250.5h1m1 0h1m9 0h1m156 0h1M6 251.5h1M8 252.5h1m3 0h1m19 0h1M0 253.5h1m7 0h1M0 254.5h1m2 0h8m3 0h3m30 0h1m7 0h1m10 0h2m4 0h1m9 0h1m1 0h1m5 0h1m38 0h1m1 0h2m10 0h1m2 0h1m3 0h1m9 0h4m22 0h1m1 0h1m1 0h1M0 255.5h1m1 0h9m3 0h3m2 0h1m27 0h1m7 0h1m10 0h2m4 0h1m9 0h1m1 0h1m5 0h1m38 0h1m1 0h2m10 0h1m2 0h1m3 0h1m9 0h4m22 0h1m1 0h1m1 0h1" stroke-width="1"/></g></g>
<rect x="476.00" y="54.50" width="2.80" height="790.50" fill="rgba(0,0,0,0.25)"/><rect x="478.80" y="54.50" width="3.10" height="790.50" fill="#333"/><rect x="120.30" y="487.30" width="776.60" height="4.80" fill="rgba(60,60,60,0.65)"/>
<use href="#ax"/>
</g>
<g transform="translate(1046.5,1069.5)">
<g filter="url(#bl)"><g transform="translate(120.3,57.3) scale(3.017,3.077)" fill="none" stroke="#f00"><path d="M87 6.5h1M77 15.5h1M156 20.5h1M219 23.5h1M49 24.5h1m49 0h1m16 0h1m22 0h1m54 0h1M69 25.5h1m106 0h1m28 0h1M87 26.5h1m7 0h1M101 27.5h1m15 0h1m26 0h1m14 0h1m41 0h1M86 28.5h1m34 0h1m18 0h1m33 0h1M105 29.5h1m8 0h1m23 0h1m22 0h2M95 30.5h1m64 0h1M63 31.5h1m13 0h1m34 0h1m7 0h1m1 0h1m19 0h1M144 32.5h1m3 0h1M128 33.5h1m17 0h2m4 0h1M76 34.5h1m7 0h1m71 0h2m4 0h1m26 0h1M72 35.5h1m31 0h1m5 0h1m3 0h1m32 0h2m4 0h1m16 0h1M96 36.5h2m22 0h1m17 0h1m2 0h1m14 0h2m17 0h1m12 0h1M60 37.5h1m20 0h1m24 0h1m8 0h1m9 0h1m5 0h1m7 0h1m7 0h1m1 0h1m19 0h2m5 0h1m6 0h1M97 38.5h1m13 0h1m8 0h1m18 0h1m2 0h1m3 0h1m1 0h1m15 0h1M45 39.5h1m75 0h1m4 0h1m5 0h1m1 0h1m4 0h1m9 0h1m5 0h1m2 0h1m15 0h1m3 0h1M40 40.5h1m57 0h1m2 0h1m1 0h1m23 0h1m4 0h1m8 0h1m20 0h1m15 0h1m4 0h1M92 41.5h1m7 0h1m14 0h1m3 0h1m10 0h3m2 0h1m4 0h1m2 0h1m4 0h1m1 0h1m3 0h1m3 0h1m18 0h1M107 42.5h1m10 0h1m12 0h1m1 0h1m11 0h1m12 0h1m2 0h1m3 0h1M106 43.5h1m7 0h1m1 0h2m16 0h1m5 0h1m20 0h1m2 0h1M91 44.5h1m3 0h1m2 0h1m1 0h1m1 0h1m13 0h1m8 0h1m1 0h1m4 0h2m1 0h2m2 0h1m3 0h1m10 0h1m3 0h1m14 0h2M40 45.5h1m7 0h1m61 0h1m3 0h1m8 0h1m5 0h1m1 0h1m5 0h1m5 0h1m7 0h1m1 0h2m4 0h1m6 0h1m2 0h1M55 46.5h1m8 0h1m18 0h1m17 0h2m15 0h2m2 0h1m15 0h1m3 0h2m2 0h1m3 0h1m8 0h1m1 0h3m4 0h1m3 0h1m5 0h1m24 0h1M79 47.5h1m8 0h1m18 0h1m9 0h1m7 0h1m1 0h1m2 0h1m1 0h1m1 0h2m5 0h1m4 0h1m3 0h1m6 0h1m3 0h1m5 0h1m2 0h1m4 0h1M90 48.5h1m30 0h2m4 0h1m3 0h1m7 0h1m5 0h2m2 0h2m3 0h1m1 0h1m1 0h1m6 0h1m13 0h1m34 0h1M109 49.5h1m6 0h1m2 0h1m2 0h1m10 0h1m3 0h1m14 0h1m3 0h1m17 0h1m13 0h2M100 50.5h1m3 0h1m23 0h1m6 0h1m4 0h3m13 0h1m1 0h1m4 0h1m8 0h1M100 51.5h1m9 0h1m6 0h1m13 0h1m1 0h1m8 0h1m6 0h1m9 0h1m9 0h1m25 0h1M82 52.5h1m24 0h1m16 0h1m4 0h1m5 0h1m7 0h1m3 0h1m5 0h1m2 0h1m12 0h1m19 0h1m31 0h1M77 53.5h1m44 0h2m20 0h1m6 0h1m25 0h1m3 0h1M56 54.5h1m2 0h1m21 0h1m8 0h1m21 0h1m6 0h1m6 0h1m4 0h1m5 0h1m16 0h1m1 0h1m1 0h2M49 55.5h1m60 0h1m9 0h1m7 0h1m2 0h1m14 0h1m2 0h2m1 0h1m3 0h2m1 0h1m2 0h1m1 0h1m24 0h1M67 56.5h1m28 0h2m16 0h1m3 0h1m15 0h1m10 0h1m1 0h1m1 0h1m14 0h1m5 0h1M79 57.5h1m9 0h1m1 0h1m5 0h1m5 0h1m23 0h1m9 0h1m21 0h1m33 0h1M84 58.5h1m34 0h1m12 0h1m1 0h1m11 0h1m30 0h1m2 0h1m2 0h1m10 0h1M60 59.5h1m26 0h1m3 0h2m22 0h1m7 0h1m1 0h1m17 0h1m18 0h1M99 60.5h1m2 0h1m23 0h1m32 0h1M67 61.5h2m14 0h1m2 0h1m5 0h1m1 0h1m6 0h1m10 0h1m11 0h1m10 0h2M67 62.5h1m8 0h2m23 0h1m25 0h1m33 0h1m35 0h1m3 0h1M81 63.5h1m13 0h1m2 0h1m2 0h1m4 0h1m1 0h1m42 0h1m4 0h1m16 0h1M87 64.5h1m2 0h1m3 0h1m43 0h1m56 0h1M75 65.5h1m11 0h1m9 0h1m7 0h1m2 0h1m22 0h1m25 0h1M39 66.5h1m62 0h1m43 0h1M95 67.5h1m4 0h1m7 0h1m35 0h1M51 68.5h1m23 0h1m58 0h1m4 0h1m49 0h1M73 69.5h1m8 0h1m12 0h2m24 0h1m35 0h1m2 0h1m2 0h1M62 70.5h1m22 0h1m2 0h1m5 0h1m9 0h1m35 0h1m8 0h1m46 0h1M121 71.5h1m9 0h1m11 0h1m25 0h1M77 72.5h1m2 0h1m13 0h1m1 0h1m24 0h1m14 0h1M101 73.5h1m14 0h1m7 0h1m13 0h1m50 0h1M107 74.5h1m13 0h1m24 0h1M67 75.5h1m27 0h1m21 0h1M56 76.5h1m34 0h1m21 0h2m63 0h1M123 77.5h1m36 0h1M39 78.5h1m46 0h1m84 0h1M66 79.5h1m21 0h2m30 0h1m47 0h1M87 80.5h1m23 0h1m5 0h1m8 0h1m18 0h1M71 81.5h1m51 0h1M131 82.5h1m9 0h1m20 0h1m34 0h1M157 83.5h1m30 0h1M102 84.5h1m35 0h1m18 0h1M104 85.5h1m55 0h1m35 0h1M66 86.5h1m94 0h1m3 0h1M101 87.5h1m32 0h1m54 0h1M91 88.5h1m32 0h1m25 0h1m33 0h1m11 0h1m4 0h1M64 89.5h1m62 0h1m18 0h1m18 0h1m6 0h1M53 90.5h1m91 0h1m53 0h1M46 91.5h1m19 0h1m13 0h1m46 0h1m8 0h1m57 0h1M50 92.5h1m73 0h1m9 0h1m17 0h1m20 0h1m22 0h1M99 93.5h1m58 0h1M113 94.5h1m5 0h1m9 0h1m50 0h1M108 95.5h1m28 0h2m15 0h1m14 0h1M56 96.5h1m100 0h1M119 97.5h1m49 0h1m11 0h1M189 98.5h1M55 99.5h1m83 0h1m4 0h1m39 0h1m18 0h1M44 100.5h1m81 0h1m49 0h1m13 0h1M83 102.5h1m67 0h1m33 0h1m3 0h1M54 103.5h1m51 0h1m84 0h1M64 104.5h1m16 0h1m49 0h1m46 0h1M54 105.5h1m68 0h1m32 0h1m31 0h1M194 106.5h1m8 0h1M46 107.5h1m82 0h1m45 0h1M149 108.5h1m20 0h1M62 109.5h1m86 0h1m15 0h1M50 110.5h1M188 111.5h1M76 112.5h1m58 0h1m23 0h1M111 113.5h1m56 0h1m33 0h1M102 114.5h1m47 0h1m45 0h1m1 0h1M38 115.5h1m51 0h1m31 0h1m5 0h1m30 0h1m22 0h1M56 116.5h1m101 0h1m40 0h1M152 117.5h1M70 118.5h1M61 119.5h1m74 0h1m21 0h1M76 120.5h1m109 0h1M79 121.5h1m26 0h1m16 0h1M125 122.5h1m15 0h1M107 123.5h1m40 0h1m15 0h1m37 0h1M140 124.5h1m10 0h1m6 0h1M147 125.5h1M56 126.5h1m34 0h1m37 0h1m3 0h1m59 0h1M120 127.5h1m17 0h1m54 0h1M47 128.5h1m2 0h1m11 0h1m86 0h1m38 0h1M79 129.5h1m71 0h1m1 0h1m18 0h1m5 0h1M97 130.5h1m26 0h1m8 0h1m2 0h1m10 0h1m15 0h1m30 0h1M104 131.5h1M110 132.5h1m16 0h1m31 0h1M59 133.5h1m45 0h1m42 0h1m30 0h2m18 0h1M53 134.5h1m31 0h1m75 0h1M93 135.5h1m12 0h1m19 0h1m14 0h1m9 0h1m4 0h1m26 0h1m6 0h1M48 136.5h1m53 0h1m45 0h1M126 137.5h1m38 0h1M103 138.5h1m10 0h1m7 0h1m4 0h1m35 0h1M93 139.5h1m21 0h1m18 0h1M105 140.5h1m11 0h1m5 0h1m28 0h1m43 0h1M157 141.5h1m13 0h1M83 142.5h1m10 0h1m12 0h1m4 0h1m9 0h1m26 0h1m16 0h1M103 143.5h1m4 0h1m1 0h1m2 0h1m9 0h1m35 0h1M92 144.5h1m4 0h1m6 0h1m1 0h1m3 0h1m2 0h1m12 0h1m2 0h1M93 145.5h1m2 0h1m5 0h1m3 0h1m48 0h1M88 146.5h1m13 0h1m3 0h1m1 0h1m1 0h1m2 0h1m8 0h2m2 0h1m2 0h1m24 0h1m13 0h1M87 147.5h1m4 0h1m1 0h1m1 0h1m5 0h1m3 0h1m3 0h1m11 0h1m4 0h1m4 0h1m12 0h1M84 148.5h1m5 0h2m5 0h1m3 0h3m2 0h2m5 0h1m6 0h1m4 0h2m4 0h1M93 149.5h2m5 0h1m2 0h1m4 0h2m3 0h1m9 0h1m17 0h1m8 0h1m12 0h1m7 0h1M101 150.5h1m7 0h1m5 0h1m2 0h1m5 0h1m13 0h1M80 151.5h1m14 0h2m1 0h2m7 0h2m1 0h1m3 0h2m3 0h1m5 0h1m14 0h1m10 0h1M102 152.5h1m11 0h1m2 0h1m13 0h1m6 0h1m3 0h1m12 0h1M91 153.5h2m4 0h2m1 0h1m2 0h1m10 0h1m3 0h1m2 0h1m1 0h1m21 0h1m2 0h1m9 0h1m4 0h1M84 154.5h1m7 0h1m2 0h1m4 0h1m1 0h2m1 0h1m3 0h2m5 0h1m15 0h1m25 0h1m1 0h1m30 0h1M79 155.5h1m3 0h1m2 0h2m8 0h1m1 0h1m3 0h1m1 0h5m1 0h1m8 0h1m1 0h1m25 0h1M75 156.5h1m7 0h2m2 0h1m1 0h1m4 0h1m4 0h3m8 0h1m15 0h1m2 0h1m26 0h1M76 157.5h1m4 0h3m1 0h2m1 0h1m4 0h2m3 0h2m2 0h2m2 0h1m1 0h1m1 0h2m9 0h1m51 0h1M81 158.5h1m3 0h2m4 0h1m2 0h3m4 0h2m4 0h1m1 0h1m2 0h2m15 0h1m3 0h1m16 0h1m4 0h1M68 159.5h1m11 0h2m4 0h1m2 0h1m1 0h1m2 0h2m2 0h2m2 0h3m5 0h1m1 0h3m8 0h1m8 0h1m24 0h1m45 0h1M79 160.5h2m5 0h10m3 0h2m2 0h1m1 0h2m2 0h1m1 0h1m3 0h1m7 0h1m6 0h1m18 0h1m47 0h1M77 161.5h1m2 0h1m2 0h21m15 0h1m3 0h1m1 0h1m8 0h1m3 0h1m13 0h1M75 162.5h4m1 0h1m2 0h17m7 0h1m2 0h1m1 0h1m3 0h1m2 0h3m11 0h1m1 0h1M78 163.5h2m1 0h18m1 0h1m1 0h2m4 0h1m3 0h1m8 0h2m12 0h1m3 0h1m2 0h1M72 164.5h2m3 0h3m1 0h17m1 0h2m2 0h1m4 0h2m12 0h1m2 0h1m1 0h1m14 0h1m24 0h1m14 0h1M68 165.5h1m4 0h2m2 0h1m1 0h3m1 0h11m1 0h6m4 0h2m3 0h1m2 0h1m7 0h5m3 0h1m26 0h1M75 166.5h2m1 0h19m4 0h1m2 0h3m3 0h1m12 0h1m10 0h1m13 0h2m21 0h1M70 167.5h2m1 0h1m3 0h1m1 0h17m2 0h1m1 0h2m1 0h1m1 0h2m7 0h1m7 0h1m13 0h1m4 0h1M70 168.5h1m5 0h19m1 0h2m2 0h1m8 0h1m4 0h1m13 0h1m7 0h1m32 0h1M60 169.5h1m5 0h1m9 0h20m2 0h1m1 0h2m1 0h1m5 0h4m1 0h1m2 0h1m4 0h1m11 0h1m4 0h1m6 0h1m10 0h2M67 170.5h1m1 0h1m3 0h5m1 0h17m4 0h1m1 0h2m9 0h1m14 0h1M68 171.5h1m3 0h1m3 0h20m7 0h1m1 0h1m1 0h1m3 0h1m6 0h1m7 0h1m1 0h1m2 0h1m8 0h2m4 0h2m29 0h1M69 172.5h1m2 0h1m1 0h20m1 0h1m1 0h1m1 0h2m1 0h2m2 0h1m3 0h4m21 0h1m22 0h1M66 173.5h2m6 0h19m1 0h2m10 0h1m1 0h2m11 0h1m1 0h1m9 0h1M66 174.5h1m7 0h18m2 0h2m1 0h1m1 0h1m1 0h1m5 0h1m8 0h1m6 0h1m30 0h1M65 175.5h1m3 0h2m2 0h20m1 0h5m1 0h1m2 0h3m2 0h1m7 0h2m2 0h1m43 0h1M63 176.5h2m2 0h1m4 0h21m4 0h2m4 0h1m3 0h1m1 0h1m5 0h2m16 0h2m20 0h1M60 177.5h2m1 0h1m1 0h1m2 0h2m2 0h18m2 0h4m3 0h1m1 0h1m9 0h1m36 0h1m44 0h1M70 178.5h20m2 0h3m2 0h1m7 0h3m1 0h1m6 0h1m15 0h1m16 0h1m5 0h1m1 0h1m20 0h1M58 179.5h1m1 0h1m6 0h22m1 0h5m1 0h5m6 0h1m2 0h1m6 0h1m5 0h1m2 0h1m2 0h1m3 0h1M53 180.5h1m2 0h2m9 0h22m4 0h1m1 0h1m1 0h1m7 0h1m6 0h1m1 0h2m5 0h1m2 0h1m3 0h1m19 0h1m14 0h1M52 181.5h1m5 0h2m2 0h1m2 0h23m4 0h2m1 0h1m7 0h1m3 0h2M51 182.5h1m8 0h1m1 0h23m1 0h1m1 0h1m3 0h1m2 0h1m8 0h2m5 0h1m3 0h1m2 0h1m3 0h1m2 0h1m6 0h1m26 0h1m16 0h1M52 183.5h1m8 0h26m14 0h1m23 0h1m1 0h1m6 0h1m9 0h1m13 0h1m7 0h1M50 184.5h1m1 0h1m5 0h26m1 0h1m2 0h1m2 0h2m6 0h1m2 0h1m6 0h1m3 0h1m2 0h1m4 0h1m2 0h1m3 0h2m32 0h1M52 185.5h1m3 0h1m1 0h27m1 0h2m2 0h1m10 0h2m1 0h1m3 0h1m13 0h1m5 0h1m3 0h1m6 0h1M54 186.5h1m2 0h7m1 0h21m1 0h2m1 0h1m8 0h1m18 0h1m2 0h1m1 0h1m2 0h1m2 0h1m4 0h1m45 0h1M48 187.5h1m1 0h1m2 0h1m1 0h26m1 0h2m2 0h1m10 0h2m4 0h1m1 0h1m27 0h1m38 0h1M51 188.5h20m2 0h9m1 0h1m3 0h1m6 0h2m3 0h1m9 0h1m22 0h1m5 0h1m7 0h1m31 0h1m21 0h1M44 189.5h1m2 0h1m4 0h3m1 0h29m4 0h1m8 0h1m7 0h1m18 0h1m19 0h1m8 0h1M48 190.5h2m1 0h4m1 0h25m1 0h1m4 0h1m18 0h1m27 0h1m6 0h1M37 191.5h2m3 0h1m1 0h1m1 0h22m1 0h16m24 0h2m2 0h1M37 192.5h1m3 0h1m3 0h12m1 0h2m1 0h19M36 193.5h2m4 0h1m2 0h33m3 0h1m2 0h1m22 0h1m29 0h1m5 0h1M34 194.5h1m3 0h1m2 0h1m2 0h2m1 0h32m5 0h2m15 0h1m21 0h1m5 0h2m44 0h1M37 195.5h1m2 0h5m1 0h13m1 0h7m1 0h10m1 0h1m4 0h1m5 0h1m16 0h1m1 0h1m85 0h1M34 196.5h2m2 0h39m1 0h2m10 0h1m9 0h1m4 0h1m14 0h1m7 0h1M39 197.5h31m1 0h5m3 0h1m1 0h1m43 0h1m5 0h1m18 0h1m17 0h1M33 198.5h1m1 0h1m2 0h27m1 0h9m1 0h1m1 0h1m11 0h1M37 199.5h4m1 0h32m2 0h1m3 0h1m28 0h1m86 0h1M30 200.5h1m1 0h1m2 0h38m1 0h2m3 0h1m14 0h1m64 0h1M29 201.5h2m1 0h1m3 0h38m2 0h1m1 0h2M28 202.5h2m3 0h1m1 0h20m1 0h13m1 0h2m1 0h2m1 0h2m2 0h1M34 203.5h39m4 0h2M29 204.5h1m3 0h8m1 0h30m1 0h1m2 0h1m3 0h1M31 205.5h27m1 0h12m5 0h1m120 0h1M29 206.5h1m1 0h1m1 0h37M24 207.5h1m3 0h1m4 0h36m6 0h1M27 208.5h3m2 0h35m1 0h1m3 0h1m116 0h1M14 209.5h1m9 0h1m2 0h2m1 0h1m1 0h35m1 0h1m60 0h1M18 210.5h1m9 0h3m1 0h33m3 0h1M28 211.5h1m3 0h32m2 0h1m1 0h1m3 0h1m101 0h1M4 212.5h1m22 0h1m3 0h1m1 0h8m1 0h20m5 0h1m69 0h1M16 213.5h1m9 0h1m3 0h1m1 0h28m9 0h1M13 214.5h1m3 0h1m13 0h3m1 0h23m1 0h1M26 215.5h4m1 0h19m1 0h6m5 0h1m2 0h1m22 0h1M11 216.5h1m10 0h1m2 0h3m4 0h11m1 0h3m1 0h8m1 0h1M27 217.5h1m1 0h1m1 0h5m1 0h16m66 0h1m38 0h1m16 0h1M14 218.5h2m4 0h1m4 0h1m2 0h1m1 0h23m1 0h1m2 0h1m2 0h1m2 0h1m130 0h1M19 219.5h2m1 0h1m1 0h1m4 0h3m1 0h17m1 0h1m1 0h2m2 0h2M16 220.5h1m2 0h2m2 0h3m1 0h1m1 0h1m2 0h1m1 0h15m1 0h1m1 0h1m1 0h1m2 0h1m111 0h1M19 221.5h1m6 0h1m6 0h7m1 0h7m5 0h1m97 0h1M17 222.5h1m2 0h2m1 0h1m4 0h1m1 0h4m1 0h12m2 0h1m3 0h1m2 0h1M13 223.5h1m2 0h1m5 0h1m1 0h1m2 0h1m2 0h1m2 0h14M16 224.5h1m5 0h1m2 0h2m2 0h1m2 0h1m3 0h13m133 0h1M16 225.5h2m1 0h2m1 0h2m2 0h4m3 0h1m3 0h8m1 0h1m3 0h3M16 226.5h2m4 0h2m2 0h1m1 0h2m2 0h2m2 0h1m1 0h6m6 0h1M8 227.5h1m8 0h1m1 0h1m4 0h1m1 0h2m6 0h1m2 0h2m1 0h3m1 0h2m1 0h1m1 0h1M18 228.5h1m1 0h1m1 0h1m2 0h1m7 0h1m1 0h1m1 0h1m2 0h2m3 0h1m2 0h1M3 229.5h1m5 0h1m4 0h1m9 0h1m4 0h1m3 0h1m2 0h1m2 0h1m6 0h1M4 230.5h1m3 0h1m5 0h1m4 0h1m1 0h1m12 0h1m1 0h1m1 0h1m1 0h1m2 0h1M16 231.5h2m11 0h1m7 0h1m2 0h1m114 0h1m23 0h1m1 0h1M1 232.5h1m8 0h1m5 0h1m8 0h2m1 0h3m4 0h1m3 0h3m2 0h1m112 0h1m11 0h1M2 233.5h1m4 0h1m9 0h2m2 0h4m2 0h3m3 0h1M0 234.5h1m5 0h1m1 0h1m1 0h1m1 0h2m5 0h1m4 0h1m2 0h1m11 0h1M4 235.5h1m5 0h1m2 0h1m1 0h2m1 0h1m5 0h1m3 0h1m4 0h1m4 0h1m5 0h1m113 0h1m16 0h1M11 236.5h1m15 0h1m1 0h1m7 0h1M9 237.5h1m4 0h1m2 0h3m4 0h1m13 0h1m1 0h1M1 238.5h1m5 0h1m4 0h2m1 0h2m1 0h1M2 239.5h1m8 0h2m2 0h4m7 0h1m134 0h1M0 240.5h1m12 0h1m1 0h1m7 0h3m2 0h1m13 0h1M0 241.5h1m4 0h1m4 0h1m2 0h1m13 0h1m7 0h2M1 242.5h1m1 0h1m6 0h1m2 0h1m6 0h3m133 0h1M7 243.5h1m1 0h1m7 0h2m1 0h1m3 0h1m9 0h1m86 0h2M33 244.5h1m14 0h1m84 0h1M2 245.5h1m24 0h1m96 0h1M12 246.5h1m3 0h1m2 0h1m107 0h1M0 247.5h1m9 0h2m4 0h1m104 0h1m38 0h1m10 0h1M0 248.5h1m2 0h1m7 0h1m124 0h1m26 0h1M4 249.5h1m1 0h1m1 0h1m1 0h1m21 0h1m128 0h1M0 250.5h1m11 0h1M0 251.5h1m26 0h1m116 0h1m37 0h1M0 252.5h1m2 0h1m138 0h1m5 0h1M191 253.5h1M0 254.5h1m1 0h2m2 0h1m2 0h2m2 0h1m69 0h2m1 0h2m1 0h2m3 0h2m3 0h9m2 0h2m2 0h2m1 0h5m13 0h1m4 0h2m21 0h2m2 0h1m2 0h1m6 0h2m3 0h3m2 0h3m1 0h1M0 255.5h1m1 0h2m2 0h1m2 0h2m2 0h1m69 0h2m1 0h2m1 0h2m3 0h2m3 0h9m2 0h2m2 0h2m1 0h5m13 0h1m4 0h2m21 0h2m2 0h1m2 0h1m6 0h2m3 0h3m2 0h3" stroke-width="1"/></g></g>
<rect x="476.00" y="54.50" width="2.80" height="790.50" fill="rgba(0,0,0,0.25)"/><rect x="478.80" y="54.50" width="3.10" height="790.50" fill="#333"/><rect x="120.30" y="487.30" width="776.60" height="4.80" fill="rgba(60,60,60,0.65)"/>
<use href="#ax"/>
</g>
<text class="b" transform="translate(158.10,127.29)" style="font-size:50.06px;letter-spacing:4.17px">2.03</text>
<text class="b" transform="translate(256.88,127.63) scale(1,0.847)" style="font-size:59.72px">%</text>
<text class="b" transform="translate(724.97,127.29)" style="font-size:50.28px;letter-spacing:3.97px">1.32</text>
<text class="b" transform="translate(823.08,127.63) scale(1,0.847)" style="font-size:59.72px">%</text>
<text class="b" transform="translate(156.33,559.79)" style="font-size:50.06px;letter-spacing:3.75px">96.28</text>
<text class="b" transform="translate(282.68,560.13) scale(1,0.847)" style="font-size:59.72px">%</text>
<text class="b" transform="translate(727.09,559.49)" style="font-size:50.21px;letter-spacing:3.89px">0.37</text>
<text class="b" transform="translate(825.78,559.83) scale(1,0.849)" style="font-size:59.72px">%</text>
<text class="b" transform="translate(1182.78,126.99)" style="font-size:50.42px;letter-spacing:3.57px">2.94</text>
<text class="b" transform="translate(1281.18,127.33) scale(1,0.849)" style="font-size:59.72px">%</text>
<text class="b" transform="translate(1751.23,126.99)" style="font-size:50.21px;letter-spacing:3.79px">8.38</text>
<text class="b" transform="translate(1849.18,127.33) scale(1,0.849)" style="font-size:59.72px">%</text>
<text class="b" transform="translate(1184.15,558.90)" style="font-size:49.76px;letter-spacing:3.12px">82.77</text>
<text class="b" transform="translate(1307.78,559.24) scale(1,0.842)" style="font-size:59.72px">%</text>
<text class="b" transform="translate(1750.90,558.89)" style="font-size:49.98px;letter-spacing:4.34px">5.91</text>
<text class="b" transform="translate(1849.18,559.24) scale(1,0.842)" style="font-size:59.72px">%</text>
<text class="b" transform="translate(135.95,1204.90)" style="font-size:49.24px;letter-spacing:4.46px">3.25</text>
<text class="b" transform="translate(234.08,1205.25) scale(1,0.830)" style="font-size:59.72px">%</text>
<text class="b" transform="translate(706.32,1204.90)" style="font-size:49.24px;letter-spacing:3.94px">6.65</text>
<text class="b" transform="translate(802.88,1205.25) scale(1,0.830)" style="font-size:59.72px">%</text>
<text class="b" transform="translate(137.03,1636.99)" style="font-size:50.21px;letter-spacing:3.43px">86.77</text>
<text class="b" transform="translate(262.88,1637.33) scale(1,0.849)" style="font-size:59.72px">%</text>
<text class="b" transform="translate(704.80,1636.99)" style="font-size:50.42px;letter-spacing:3.73px">3.33</text>
<text class="b" transform="translate(802.88,1637.33) scale(1,0.849)" style="font-size:59.72px">%</text>
<text class="b" transform="translate(1182.84,1204.91)" style="font-size:49.03px;letter-spacing:4.60px">2.08</text>
<text class="b" transform="translate(1281.18,1205.25) scale(1,0.830)" style="font-size:59.72px">%</text>
<text class="b" transform="translate(1753.12,1204.90)" style="font-size:49.53px;letter-spacing:3.31px">4.74</text>
<text class="b" transform="translate(1849.18,1205.25) scale(1,0.830)" style="font-size:59.72px">%</text>
<text class="b" transform="translate(1184.43,1636.99)" style="font-size:50.21px;letter-spacing:2.92px">90.78</text>
<text class="b" transform="translate(1307.78,1637.33) scale(1,0.849)" style="font-size:59.72px">%</text>
<text class="b" transform="translate(1750.79,1636.99)" style="font-size:50.21px;letter-spacing:4.02px">2.40</text>
<text class="b" transform="translate(1849.18,1637.33) scale(1,0.849)" style="font-size:59.72px">%</text>
<text class="b" transform="translate(334.00,1023.59)" style="font-size:73.05px;letter-spacing:2.78px">control</text>
<text class="b" transform="translate(1410.83,1023.85)" style="font-size:77.18px;letter-spacing:0.70px">NMDA</text>
<text class="b" transform="translate(386.98,2090.93)" style="font-size:77.34px;letter-spacing:-0.96px">PF100 μM</text>
<text class="b" transform="translate(1470.58,2090.93)" style="font-size:77.34px;letter-spacing:-1.05px">PF200 μM</text>
</svg></body></html>
